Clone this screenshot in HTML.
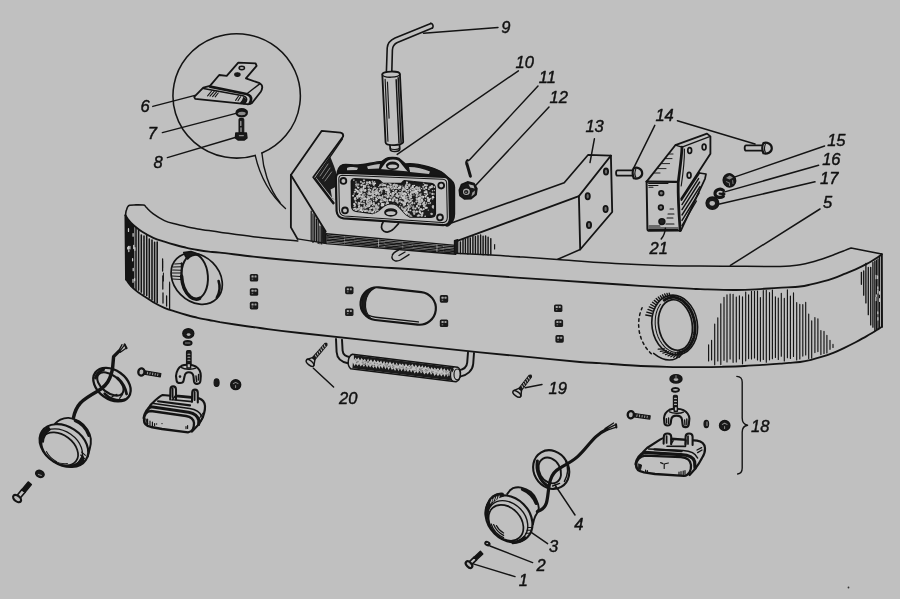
<!DOCTYPE html>
<html><head><meta charset="utf-8"><title>diagram</title>
<style>
html,body{margin:0;padding:0;background:#c0c0c0;}
body{width:900px;height:599px;overflow:hidden;font-family:"Liberation Sans",sans-serif;}
svg{display:block;filter:blur(0.4px)}
svg text{font-family:"Liberation Sans",sans-serif;font-style:italic;font-size:16.5px;fill:#111;stroke:#111;stroke-width:0.45px}
</style></head><body>
<svg width="900" height="599" viewBox="0 0 900 599" fill="none" stroke="#141414" stroke-width="1.44" stroke-linecap="round" stroke-linejoin="round">
<rect x="0" y="0" width="900" height="599" fill="#c0c0c0" stroke="none"/>
<g id="bumper"><path d="M125.5 215.4C125.6 214.8 125.8 212.5 126.0 211.5C126.2 210.5 126.4 210.2 126.7 209.4C127.0 208.6 127.3 207.3 127.8 206.6C128.3 205.9 128.6 205.5 129.6 205.2C130.6 204.9 131.7 204.9 134.0 204.9C136.3 204.9 141.4 204.8 143.3 205.0C145.2 205.2 144.6 205.5 145.2 206.0C145.8 206.5 145.3 206.5 146.7 207.8C148.0 209.1 150.4 211.8 153.3 213.9C156.2 216.0 160.7 218.9 164.4 220.6C168.1 222.3 171.9 223.1 175.6 224.1C179.3 225.1 183.0 225.9 186.7 226.7C190.4 227.5 194.1 228.2 197.8 228.9C201.5 229.6 205.2 230.1 208.9 230.6C212.6 231.1 212.6 231.2 220.0 232.2C227.4 233.2 242.2 235.4 253.3 236.7C264.4 238.0 279.3 239.3 286.7 240.0C294.1 240.7 295.9 240.8 297.8 240.9" stroke-width="1.55"/><path d="M454.4 253.3C460.5 253.6 480.2 254.4 491.1 255.0C502.0 255.6 508.9 256.1 520.0 256.9C531.1 257.6 541.7 258.4 557.5 259.5C573.3 260.6 597.9 262.5 615.0 263.5C632.1 264.5 645.8 265.0 660.0 265.4C674.2 265.8 687.8 266.0 700.0 266.1C712.2 266.2 722.2 266.1 733.3 266.2C744.4 266.3 758.9 266.5 766.7 266.5C774.5 266.5 776.1 266.5 780.0 266.4C783.9 266.3 786.7 266.2 790.0 265.9C793.3 265.6 796.5 265.4 800.0 264.8C803.5 264.2 807.4 263.3 811.1 262.3C814.8 261.3 818.5 260.1 822.2 258.9C825.9 257.7 829.6 256.4 833.3 255.0C837.0 253.6 841.4 251.8 844.4 250.6C847.4 249.4 850.0 248.4 851.1 248.0 L881.7 254" stroke-width="1.55"/><path d="M125.5 215.4C125.9 216.0 127.1 218.0 128.0 219.2C128.9 220.4 129.8 221.5 131.1 222.8C132.4 224.1 134.2 225.7 136.0 227.2C137.8 228.7 139.3 229.9 142.2 231.7C145.1 233.5 149.6 236.1 153.3 237.8C157.0 239.5 160.7 240.5 164.4 241.7C168.1 242.9 171.9 244.0 175.6 245.0C179.3 246.0 183.0 247.0 186.7 247.8C190.4 248.6 194.1 249.3 197.8 250.0C201.5 250.7 205.2 251.3 208.9 251.7C212.6 252.1 212.6 251.8 220.0 252.6C227.4 253.4 242.2 255.5 253.3 256.7C264.4 257.9 275.6 259.0 286.7 260.0C297.8 261.0 306.1 261.7 320.0 262.8C333.9 263.9 353.3 265.4 370.0 266.6C386.7 267.8 403.3 268.7 420.0 270.0C436.7 271.3 453.3 272.9 470.0 274.2C486.7 275.5 500.0 276.4 520.0 277.8C540.0 279.2 570.0 281.2 590.0 282.5C610.0 283.8 623.3 284.8 640.0 285.8C656.7 286.8 680.0 288.1 690.0 288.6C700.0 289.2 692.8 288.9 700.0 289.1C707.2 289.3 724.0 289.9 733.3 290.0C742.6 290.1 748.2 289.8 755.6 289.4C763.0 289.0 770.4 288.3 777.8 287.8C785.2 287.3 794.5 287.1 800.0 286.5C805.5 285.9 807.4 285.2 811.1 284.4C814.8 283.6 818.5 282.7 822.2 281.7C825.9 280.7 829.6 279.6 833.3 278.3C837.0 277.0 840.7 275.4 844.4 273.9C848.1 272.4 851.9 271.1 855.6 269.4C859.3 267.7 863.0 265.9 866.7 263.9C870.4 261.9 875.3 258.8 877.8 257.2C880.3 255.6 881.1 254.9 881.7 254.4" stroke-width="1.84"/><path d="M126.1 279.4C126.5 280.0 127.7 281.9 128.5 283.0C129.3 284.1 129.8 284.8 131.1 286.1C132.3 287.4 134.2 289.1 136.0 290.6C137.8 292.1 139.3 293.1 142.2 295.0C145.1 296.9 149.6 300.1 153.3 302.2C157.0 304.3 160.7 306.2 164.4 307.8C168.1 309.4 171.9 310.5 175.6 311.7C179.3 312.9 183.0 314.0 186.7 315.0C190.4 316.0 194.1 317.0 197.8 317.8C201.5 318.6 205.2 319.3 208.9 320.0C212.6 320.7 215.7 321.4 220.0 322.2C224.3 322.9 228.3 323.5 235.0 324.5C241.7 325.5 249.2 326.6 260.0 328.0C270.8 329.4 276.7 330.4 300.0 333.0C323.3 335.6 370.0 340.5 400.0 343.8C430.0 347.0 458.3 350.1 480.0 352.3C501.7 354.5 513.3 355.6 530.0 357.2C546.7 358.8 568.3 361.0 580.0 362.0C591.7 363.0 591.1 362.5 600.0 363.1C608.9 363.7 622.2 364.9 633.3 365.5C644.4 366.1 655.6 366.5 666.7 366.8C677.8 367.1 690.8 367.1 700.0 367.1C709.2 367.1 714.6 367.0 722.0 366.8C729.4 366.6 736.9 366.4 744.4 366.0C751.9 365.6 760.8 365.0 766.7 364.6C772.6 364.2 776.3 363.9 780.0 363.6C783.7 363.3 785.6 363.2 788.9 362.9C792.2 362.6 796.3 362.5 800.0 362.0C803.7 361.5 807.4 360.7 811.1 359.8C814.8 358.9 818.5 357.9 822.2 356.7C825.9 355.5 829.6 354.3 833.3 352.8C837.0 351.3 840.7 349.6 844.4 347.8C848.1 346.0 851.9 344.1 855.6 342.2C859.3 340.2 863.0 338.2 866.7 336.1C870.4 334.0 875.2 331.0 877.8 329.4C880.3 327.8 881.3 327.1 882.0 326.7" stroke-width="1.84"/><path d="M125.5 215.4 L126.1 279.4" stroke-width="2.07"/><path d="M881.8 254.2 L882 326.7" stroke-width="1.95"/></g>
<g id="lhatch">
<path d="M126.6 218.3V279.4M127.8 219.8V281.5M129.0 221.2V283.1M130.1 223.0V284.0M131.1 224.2V285.9M132.2 224.9V286.7M133.6 226.6V287.8" stroke-width="1.61" opacity="1"/>
<path d="M136.0 227.5V290.0M138.6 229.9V290.1M141.3 235.0V292.1M144.0 235.9V294.4M146.7 234.6V295.4M149.3 239.0V298.0M152.0 240.0V299.7M154.6 242.2V301.8M157.2 242.0V302.7" stroke-width="1.55" opacity="1"/>
<path d="M162.6 259 V271 M162.8 276 V289 M163 293 V303 M169.6 284 V309 M166.6 296 V306" stroke-width="1.26"/>
<path d="M133.7 245.3v3.2M128.5 246.4v2.7M128.8 250.2v1.3M133.2 268.4v2.3M134.9 247.7v2.6M132.6 258.7v2.1M134.6 278.6v2.1M133.1 233.6v2.6M133.0 279.5v2.8M129.9 246.4v2.5M127.7 247.4v1.5M128.5 228.7v2.7" stroke="#c8c8c8" stroke-width="1.26"/>
</g>
<g id="rhatch">
<path d="M708.6 344.9V361.0M711.6 340.2V359.9M714.7 324.0V364.7M717.8 317.7V361.0M720.8 303.8V364.6M724.0 297.3V360.3M727.0 294.8V362.0M730.1 294.1V359.0M733.1 294.3V362.3M736.3 297.1V361.9M739.4 295.8V359.0M742.5 296.8V363.8M745.7 292.1V360.8M748.6 294.9V358.6M751.5 291.3V359.0M754.5 291.2V357.9M757.5 291.1V359.9M760.4 297.6V361.2M763.3 290.6V359.4M766.3 290.4V362.2M769.5 292.5V359.8M772.4 290.0V358.7M775.4 296.7V357.4M778.3 298.1V359.4M781.3 293.2V356.2M784.3 298.4V360.9M787.4 289.7V357.7M790.4 296.0V358.5M793.5 292.7V356.4M796.7 302.6V359.9M799.8 304.4V359.0M802.8 304.6V356.1M805.7 302.4V355.0M808.7 314.1V358.5M811.7 320.9V358.1M814.9 317.6V352.6M817.9 318.8V351.6M820.9 330.6V354.6M824.0 331.4V353.4M826.9 335.2V353.0M830.0 340.2V349.3M833.0 344.4V347.4" stroke-width="1.15" opacity="1"/>
<path d="M861.4 272.3V284.3M863.7 271.0V295.2M865.9 263.3V302.9M868.3 267.4V314.7M870.7 267.3V324.9M872.9 262.5V327.2" stroke-width="1.32" opacity="1"/>
<path d="M874.8 261.1V330.9M876.4 260.1V329.7M878.0 258.8V328.4M879.5 256.5V327.5" stroke-width="1.21" opacity="1"/>
<path d="M876.3 294.7v1.8M879.6 291.6v2.6M877.9 317.5v2.6M879.6 298.6v2.8M877.6 275.9v2.6M875.9 275.2v3.5M875.9 297.3v3.3M877.8 290.3v2.8M877.8 311.9v1.8M877.8 286.7v2.2" stroke="#c8c8c8" stroke-width="1.15"/>
</g>
<g id="squares">
<rect x="249.8" y="274.0" width="8.4" height="7.6" rx="1.6" fill="#1a1a1a" stroke="none"/><rect x="251.5" y="275.6" width="2.1" height="2.0" rx="0.5" fill="#a8a8a8" stroke="none"/><rect x="254.5" y="275.6" width="2.0" height="2.0" rx="0.5" fill="#9c9c9c" stroke="none"/><rect x="251.7" y="278.6" width="1.5" height="1.3" fill="#666" stroke="none"/>
<rect x="249.8" y="288.2" width="8.4" height="7.6" rx="1.6" fill="#1a1a1a" stroke="none"/><rect x="251.5" y="289.8" width="2.1" height="2.0" rx="0.5" fill="#a8a8a8" stroke="none"/><rect x="254.5" y="289.8" width="2.0" height="2.0" rx="0.5" fill="#9c9c9c" stroke="none"/><rect x="251.7" y="292.8" width="1.5" height="1.3" fill="#666" stroke="none"/>
<rect x="249.8" y="301.8" width="8.4" height="7.6" rx="1.6" fill="#1a1a1a" stroke="none"/><rect x="251.5" y="303.4" width="2.1" height="2.0" rx="0.5" fill="#a8a8a8" stroke="none"/><rect x="254.5" y="303.4" width="2.0" height="2.0" rx="0.5" fill="#9c9c9c" stroke="none"/><rect x="251.7" y="306.4" width="1.5" height="1.3" fill="#666" stroke="none"/>
<rect x="345.1" y="286.6" width="8.4" height="7.6" rx="1.6" fill="#1a1a1a" stroke="none"/><rect x="346.8" y="288.2" width="2.1" height="2.0" rx="0.5" fill="#a8a8a8" stroke="none"/><rect x="349.8" y="288.2" width="2.0" height="2.0" rx="0.5" fill="#9c9c9c" stroke="none"/><rect x="347.0" y="291.2" width="1.5" height="1.3" fill="#666" stroke="none"/>
<rect x="345.1" y="308.4" width="8.4" height="7.6" rx="1.6" fill="#1a1a1a" stroke="none"/><rect x="346.8" y="310.0" width="2.1" height="2.0" rx="0.5" fill="#a8a8a8" stroke="none"/><rect x="349.8" y="310.0" width="2.0" height="2.0" rx="0.5" fill="#9c9c9c" stroke="none"/><rect x="347.0" y="313.0" width="1.5" height="1.3" fill="#666" stroke="none"/>
<rect x="439.8" y="295.1" width="8.4" height="7.6" rx="1.6" fill="#1a1a1a" stroke="none"/><rect x="441.5" y="296.7" width="2.1" height="2.0" rx="0.5" fill="#a8a8a8" stroke="none"/><rect x="444.5" y="296.7" width="2.0" height="2.0" rx="0.5" fill="#9c9c9c" stroke="none"/><rect x="441.7" y="299.7" width="1.5" height="1.3" fill="#666" stroke="none"/>
<rect x="439.8" y="319.5" width="8.4" height="7.6" rx="1.6" fill="#1a1a1a" stroke="none"/><rect x="441.5" y="321.1" width="2.1" height="2.0" rx="0.5" fill="#a8a8a8" stroke="none"/><rect x="444.5" y="321.1" width="2.0" height="2.0" rx="0.5" fill="#9c9c9c" stroke="none"/><rect x="441.7" y="324.1" width="1.5" height="1.3" fill="#666" stroke="none"/>
<rect x="554.0" y="304.4" width="8.4" height="7.6" rx="1.6" fill="#1a1a1a" stroke="none"/><rect x="555.7" y="306.0" width="2.1" height="2.0" rx="0.5" fill="#a8a8a8" stroke="none"/><rect x="558.7" y="306.0" width="2.0" height="2.0" rx="0.5" fill="#9c9c9c" stroke="none"/><rect x="555.9" y="309.0" width="1.5" height="1.3" fill="#666" stroke="none"/>
<rect x="554.7" y="319.5" width="8.4" height="7.6" rx="1.6" fill="#1a1a1a" stroke="none"/><rect x="556.4" y="321.1" width="2.1" height="2.0" rx="0.5" fill="#a8a8a8" stroke="none"/><rect x="559.4" y="321.1" width="2.0" height="2.0" rx="0.5" fill="#9c9c9c" stroke="none"/><rect x="556.6" y="324.1" width="1.5" height="1.3" fill="#666" stroke="none"/>
<rect x="555.4" y="335.1" width="8.4" height="7.6" rx="1.6" fill="#1a1a1a" stroke="none"/><rect x="557.1" y="336.7" width="2.1" height="2.0" rx="0.5" fill="#a8a8a8" stroke="none"/><rect x="560.1" y="336.7" width="2.0" height="2.0" rx="0.5" fill="#9c9c9c" stroke="none"/><rect x="557.3" y="339.7" width="1.5" height="1.3" fill="#666" stroke="none"/>
</g>
<g id="slot" transform="rotate(6.3 398 306)"><rect x="360.4" y="289.6" width="75.6" height="32.8" rx="16.4" stroke-width="2.18"/><path d="M373 290.6 C365.5 292.6 361.6 299 361.6 306 C361.6 313 365.4 319.4 372.4 321.6 C367.6 317.6 365.4 312 365.4 306 C365.4 300 368 294 373 290.6 Z" fill="#1a1a1a" stroke-width="1.15"/><path d="M369.4 318.4 C372 319.4 374 319.6 377 319.6 L420 319.6" stroke-width="1.38"/></g>
<g id="lhole"><ellipse cx="196.7" cy="278.7" rx="28.3" ry="22.6" transform="rotate(45 196.7 278.7)" stroke-width="1.72"/><path d="M218.6 281 C220.6 287 219.4 293 216.8 297.6" stroke-width="2.53"/><ellipse cx="194.7" cy="276.7" rx="13.2" ry="22.4" transform="rotate(-4 194.7 276.7)" stroke-width="1.95"/><path d="M181.6 276 C182 284 185 292 190 296.6 C193 299 196.6 299.8 199.6 298.4" stroke-width="3.45"/><path d="M183.8 252.6 L191 251.6 L199.6 254.6 C194 254.4 190 255.6 187.6 259 L185.6 256.4 Z" fill="#1a1a1a" stroke-width="1.61"/><path d="M174.6 264 L182.4 263.6 M173.4 267 L181.6 266.8 M172.6 270 L181 270.2 M172.2 273 L180.8 273 M172 276 L180.8 276.4 M172.6 279 L181 279.4" stroke-width="1.03"/><path d="M181.6 263 V277" stroke-width="1.72"/><path d="M162.6 261 V268 M163.4 273 V281 M169.6 282 V284" stroke-width="1.03"/></g>
<g id="rhole"><ellipse cx="674.7" cy="325" rx="22.7" ry="30" transform="rotate(-9 674.7 325)" stroke-width="1.61"/><ellipse cx="675.4" cy="325" rx="16.8" ry="25.4" transform="rotate(-9 675.4 325)" stroke-width="1.72"/><path d="M664.2 300.3 L665.8 299.3 L667.4 298.5 L669.1 297.9 L670.8 297.5 L672.6 297.4 L674.4 297.4 L676.2 297.7 L677.9 298.3 L679.7 299.0 L681.4 299.9 L683.1 301.1 L684.7 302.4 L686.2 303.9 L687.7 305.6 L689.0 307.4 L690.2 309.4 L691.3 311.5 L692.3 313.7 L693.1 316.0 L693.8 318.3 L694.4 320.8 L694.7 323.2 L695.0 325.7 L695.0 328.2 L694.9 330.6 L694.7 333.0 L694.3 335.3 L693.7 337.6 L693.0 339.7 L692.1 341.7 L691.1 343.6 L690.0 345.4 L688.8 347.0 L687.4 348.4 L686.0 349.6 L684.4 350.6 L682.8 351.5 L681.1 352.1 L679.4 352.5 L677.6 352.6" stroke-width="2.88"/><path d="M675.9 352.4 L674.7 352.2 L673.6 352.0 L672.4 351.7 L671.2 351.2 L670.1 350.7 L669.0 350.1 L667.9 349.4 L666.8 348.6 L665.7 347.8 L664.7 346.8 L663.8 345.8 L662.8 344.7 L661.9 343.5 L661.1 342.3 L660.2 341.0 L659.5 339.7 L658.8 338.3 L658.1 336.9 L657.6 335.4 L657.0 333.9 L656.6 332.4 L656.2 330.8 L655.8 329.2 L655.6 327.6 L655.4 326.0 L655.2 324.4 L655.2 322.7 L655.2 321.1 L655.3 319.6 L655.4 318.0 L655.6 316.4 L655.9 314.9 L656.2 313.4 L656.6 312.0 L657.1 310.6 L657.6 309.2 L658.2 307.9 L658.9 306.7 L659.6 305.5 L660.4 304.4" stroke-width="1.03"/><path d="M651.3 353.8 L650.4 352.9 L649.6 352.0 L648.8 351.1 L647.9 350.2 L647.2 349.2 L646.4 348.2 L645.7 347.2 L645.0 346.2 L644.4 345.1 L643.7 344.0 L643.2 342.9 L642.6 341.8 L642.1 340.7 L641.6 339.5 L641.1 338.3 L640.7 337.1 L640.4 335.9 L640.0 334.7 L639.7 333.5 L639.4 332.3 L639.2 331.0 L639.0 329.8 L638.9 328.6 L638.8 327.3 L638.7 326.0 L638.6 324.8 L638.6 323.5 L638.7 322.3 L638.8 321.0 L638.9 319.8 L639.0 318.5 L639.2 317.3 L639.5 316.1 L639.7 314.8 L640.0 313.6 L640.4 312.4 L640.8 311.3 L641.2 310.1 L641.6 308.9 L642.1 307.8" stroke-width="1.49" stroke-dasharray="2.6 3.4"/><path d="M651.3 316.0L645.8 315.0M651.8 313.5L646.8 312.1M652.5 311.1L648.0 309.4M653.4 308.7L649.3 306.9M654.4 306.5L650.8 304.5M655.6 304.5L652.5 302.3M657.0 302.6L654.3 300.4M658.5 300.8L656.2 298.6M660.1 299.3L658.3 297.1M661.8 297.9L660.4 295.8M663.6 296.8L662.5 294.8M665.5 295.8L664.7 294.0M667.5 295.1L667.0 293.5M669.5 294.6L669.2 293.2" stroke-width="1.38"/><path d="M682.1 352.5L679.3 357.3M679.9 353.1L676.5 357.5M677.7 353.4L673.7 357.3M675.4 353.4L670.9 356.8M673.1 353.1L668.1 355.9M670.9 352.5L665.5 354.7M668.6 351.5L662.9 353.2M666.5 350.3L660.4 351.3M664.4 348.8L658.2 349.2" stroke-width="1.26"/><path d="M653.6 353.4 Q670 366.4 682.2 353.9" stroke-width="1.49"/></g>
<g id="callout"><path d="M255.2 155.4 A63.7 62.2 0 1 1 261.9 153.0" stroke-width="1.55"/><path d="M255.2 155.4 C259 172 268 193 285.5 208.5" stroke-width="1.38"/><path d="M261.9 153.0 C263 168 268.5 188 280 202.5" stroke-width="1.38"/></g>
<g id="p6"><path d="M238.3 62.6 L255.6 63.3 L256.6 65.9 L245.9 78.3 L259.6 83.2 C261.6 84.2 262.4 86 262.2 87.6 C262 89.4 261.6 90.6 260.8 91.8 L252 103 C250.6 104.2 248.6 104.4 246.6 104.2 L195.2 98.8 L194.2 96.8 L203.3 87.6 L210 85.8 L219.2 75 L226.7 75.8 Z" fill="#c0c0c0" stroke-width="1.84"/><path d="M210 86.6 L246.4 94 C250 95 251.4 97.6 251 100 C250.8 101.6 250.4 102.4 249.8 103" stroke-width="2.64"/><path d="M203.4 88.4 L243 95.8 C246.4 96.6 247.2 99 246.4 101 C245.8 102.4 245 103.2 244 103.8" stroke-width="1.49"/><path d="M246.6 94 L260 83.6" stroke-width="1.38"/><path d="M243.6 97.6 C246 98.6 246.4 101 244.8 103.4 L240.6 103 C242.4 101.4 243.2 99.4 243.6 97.6Z" fill="#1a1a1a" stroke-width="1.15"/><path d="M207.6 95.8 L211.6 91 M210 96.2 L214.2 91.4 M212.6 96.6 L216.6 91.8 M215.2 96.8 L218.2 93 M235.6 100.4 L238.6 96 M238 100.8 L240.6 96.8" stroke-width="1.09"/><ellipse cx="241.8" cy="68" rx="2.7" ry="1.7" fill="#b0b0b0" stroke-width="1.49"/><ellipse cx="237.4" cy="74.6" rx="2.7" ry="1.8" fill="#1a1a1a" stroke-width="1.15"/></g>
<g id="p7p8"><ellipse cx="241.7" cy="112.8" rx="5.2" ry="3.6" fill="#8c8c8c" stroke-width="2.18"/><path d="M237.4 111.8 C239 110 244.4 109.8 246.2 111.4" stroke-width="2.76"/><rect x="239" y="118.6" width="4.8" height="15" rx="1" fill="#1a1a1a" stroke-width="1.03"/><path d="M240.8 121.5 V125.4 M241 128 V131.6" stroke="#a4a4a4" stroke-width="1.26"/><path d="M235.8 133 L246.4 133 L247 138 L244.4 140 L238 140 L235.4 138 Z" fill="#1a1a1a" stroke-width="1.38"/><path d="M239.4 135.6 H243.4" stroke="#8a8a8a" stroke-width="1.15"/></g>
<g id="leadersL" stroke-width="1.49"><path d="M152.8 106.4 L195 95.4"/><path d="M162.4 132.6 L236 113.4"/><path d="M167.4 157.6 L236 137.2"/></g>
<g id="lbracket"><path d="M330.4 157 L316.3 177.7 L333 199 L336 200 L336 172 L334 166 Z" fill="#1c1c1c" stroke="none"/><path d="M320 176 L328 164 M322.6 178.6 L330 168 M325 181 L331.6 172" stroke="#9a9a9a" stroke-width="0.80"/><path d="M330.6 189.4 L335.4 187 L335.6 201 L332 197.6 Z" fill="#bdbdbd" stroke="none"/><path d="M290.9 175.1 L321.6 130.9 L340.6 132.7 C342.6 133.2 343.5 134.8 343.1 136.5 L313.2 177.2 L333.4 203.6" stroke-width="1.84"/><path d="M290.9 175.1 L325.7 231.6" stroke-width="1.84"/><path d="M290.9 175.1 L290.9 227.4 L297.5 238.9" stroke-width="1.84"/><path d="M342.5 138.8 L315.3 178.3 L334 203" stroke-width="1.38"/><path d="M297.5 238.9 L326 243.4" stroke-width="1.38"/></g>
<path d="M311.2 211.1V240.9M313.0 213.9V242.4M314.7 215.7V241.4M316.5 219.1V241.5M318.2 220.5V243.4M320.0 226.0V243.7M321.7 226.7V243.9" stroke-width="1.21" opacity="1"/>
<path d="M322.8 228 L326 233.4 L326 243.6 L322.8 243 Z" fill="#1a1a1a" stroke-width="0.92"/>
<g id="plate"><path d="M326 233.8 L455.5 245.4 L455.8 254.2 L326 243.6 Z" fill="#c0c0c0" stroke-width="1.38"/><path d="M327 235.6 L455 246.9 M327 237.2 L455 248.5 M327 238.8 L455 250.1 M327 240.4 L455 251.7 M327 242 L455 253.2" stroke-width="1.21" stroke-dasharray="17 1.2 9 0.8 23 1.6 5 1"/><path d="M398.5 250 C394 252 391.5 255 392 258 C392.8 261 396.5 262 400.5 260 L409 254.6 M399 255.5 L405 252" stroke-width="1.38"/></g>
<g id="housing"><path d="M337 176 C337 170 339 166 343 164.6 C347 163.6 352 165.4 358 165 C366 164.4 374 162 382 161.4 L386 158.6 C388 157.2 396 157 399 158.4 L405.5 164 C412 163 420 164.4 428 166.6 C436 168.8 443 171.5 447.5 177 C452 180 454.5 183 454.5 187 L454.5 214 C454.5 219 452 223 448.5 225.6 L447 226 Z" fill="#161616" stroke-width="1.38"/><path d="M347 168 C350 166 355 167.4 358 167.8 L357 170 L347 170.2 Z M367 166.6 C372 165 377 164 380 164 L379 168.5 L368 169 Z M409 167 C416 167 424 169 430 171.5 L429 174 L410 172 Z" fill="#b9b9b9" stroke="none"/><path d="M340.5 172.6 C338 172.8 336 175 335.9 178 L336.6 211 C337 215 339.5 217.8 343.5 218.3 L443 225.2 C447 225.4 449.8 222.5 450 218.5 L449.2 181.5 C449 178.5 447 177 444 176.8 Z" fill="#c0c0c0" stroke-width="2.18"/><path d="M342 175.2 C340 175.4 338.8 177 338.8 179 L339.4 210 C339.6 213.5 341.5 215.6 344.5 215.9 L442 222.6 C445.5 222.8 447.3 220.6 447.3 217.6 L446.6 182.8 C446.4 180.6 445 179.5 443 179.3 Z" stroke-width="1.03"/><path d="M380 169 C382 166 384.5 161.5 387.5 159.6 C390 158.2 396 158.2 398.5 159.6 C402 162 404 166.5 409 171.5" fill="#c0c0c0" stroke-width="1.84"/><ellipse cx="392.6" cy="165.8" rx="5.8" ry="3.4" stroke-width="1.72"/><path d="M387.5 165 C389 163.2 395.5 163 397.6 164.8" stroke-width="2.07"/></g>
<clipPath id="cavclip"><path d="M351.5 181.5 C351.5 179.8 353 178.8 355 178.9 L378.5 180.2 C380.5 180.4 381 182.5 382.5 183.6 L401 183.6 C402.5 183.2 402.8 181.2 404.5 181 L431 183.6 C433.8 184 435 185.6 435 188 L435.2 213 C435.2 215.8 433.5 217 431 217 L410 216.8 C404 214.5 402 208.5 397 205 C393.5 203 388 203 384.5 205.5 C380.5 208.5 377.5 212.5 372.5 213.4 L356 211 C353 210.5 351.8 208.5 351.8 206 Z"/></clipPath>
<path d="M351.5 181.5 C351.5 179.8 353 178.8 355 178.9 L378.5 180.2 C380.5 180.4 381 182.5 382.5 183.6 L401 183.6 C402.5 183.2 402.8 181.2 404.5 181 L431 183.6 C433.8 184 435 185.6 435 188 L435.2 213 C435.2 215.8 433.5 217 431 217 L410 216.8 C404 214.5 402 208.5 397 205 C393.5 203 388 203 384.5 205.5 C380.5 208.5 377.5 212.5 372.5 213.4 L356 211 C353 210.5 351.8 208.5 351.8 206 Z" fill="#1c1c1c" stroke-width="1.84"/>
<g clip-path="url(#cavclip)" stroke="none"><circle cx="363.4" cy="183.6" r="0.60" fill="#bcbcbc"/><circle cx="387.6" cy="187.1" r="0.64" fill="#bcbcbc"/><circle cx="430.0" cy="203.5" r="0.73" fill="#bcbcbc"/><circle cx="394.8" cy="191.9" r="0.77" fill="#a8a8a8"/><circle cx="417.4" cy="215.9" r="0.74" fill="#c6c6c6"/><circle cx="394.7" cy="197.8" r="0.75" fill="#bcbcbc"/><circle cx="404.7" cy="209.5" r="1.15" fill="#c6c6c6"/><circle cx="373.9" cy="183.6" r="1.25" fill="#d0d0d0"/><circle cx="428.9" cy="189.2" r="0.92" fill="#bcbcbc"/><circle cx="367.0" cy="214.4" r="0.92" fill="#bcbcbc"/><circle cx="376.1" cy="198.0" r="0.79" fill="#c6c6c6"/><circle cx="434.5" cy="180.4" r="0.90" fill="#bcbcbc"/><circle cx="394.7" cy="188.3" r="1.01" fill="#d0d0d0"/><circle cx="432.5" cy="190.7" r="0.71" fill="#bcbcbc"/><circle cx="385.6" cy="192.2" r="0.64" fill="#c6c6c6"/><circle cx="403.9" cy="212.4" r="0.59" fill="#d0d0d0"/><circle cx="424.3" cy="204.5" r="0.72" fill="#a8a8a8"/><circle cx="355.8" cy="186.0" r="0.55" fill="#a8a8a8"/><circle cx="372.3" cy="215.7" r="0.80" fill="#c6c6c6"/><circle cx="406.4" cy="188.4" r="0.61" fill="#c6c6c6"/><circle cx="363.9" cy="201.3" r="0.76" fill="#bcbcbc"/><circle cx="401.5" cy="208.0" r="0.90" fill="#a8a8a8"/><circle cx="412.1" cy="203.4" r="1.13" fill="#b4b4b4"/><circle cx="363.6" cy="198.9" r="1.13" fill="#c6c6c6"/><circle cx="408.7" cy="205.3" r="0.57" fill="#bcbcbc"/><circle cx="404.9" cy="215.5" r="0.87" fill="#c6c6c6"/><circle cx="404.1" cy="202.8" r="0.89" fill="#c6c6c6"/><circle cx="371.2" cy="203.7" r="1.14" fill="#c6c6c6"/><circle cx="391.8" cy="205.0" r="0.98" fill="#bcbcbc"/><circle cx="358.4" cy="184.6" r="1.07" fill="#a8a8a8"/><circle cx="392.3" cy="216.0" r="0.70" fill="#d0d0d0"/><circle cx="376.1" cy="198.6" r="0.88" fill="#c6c6c6"/><circle cx="359.1" cy="197.0" r="0.60" fill="#b4b4b4"/><circle cx="369.4" cy="214.9" r="0.96" fill="#bcbcbc"/><circle cx="414.0" cy="188.9" r="0.97" fill="#b4b4b4"/><circle cx="375.2" cy="183.3" r="0.90" fill="#d0d0d0"/><circle cx="408.6" cy="194.4" r="0.84" fill="#d0d0d0"/><circle cx="378.2" cy="210.9" r="1.08" fill="#d0d0d0"/><circle cx="362.0" cy="214.2" r="1.18" fill="#a8a8a8"/><circle cx="414.7" cy="211.5" r="0.59" fill="#a8a8a8"/><circle cx="388.2" cy="191.0" r="1.10" fill="#d0d0d0"/><circle cx="389.4" cy="207.6" r="0.75" fill="#c6c6c6"/><circle cx="427.7" cy="199.9" r="0.84" fill="#a8a8a8"/><circle cx="373.6" cy="203.9" r="0.94" fill="#d0d0d0"/><circle cx="361.9" cy="203.4" r="0.90" fill="#d0d0d0"/><circle cx="397.7" cy="196.2" r="1.08" fill="#d0d0d0"/><circle cx="363.6" cy="186.3" r="0.79" fill="#c6c6c6"/><circle cx="383.8" cy="207.3" r="0.74" fill="#c6c6c6"/><circle cx="393.3" cy="200.8" r="1.03" fill="#b4b4b4"/><circle cx="404.3" cy="211.8" r="0.74" fill="#bcbcbc"/><circle cx="383.9" cy="203.5" r="0.77" fill="#c6c6c6"/><circle cx="362.6" cy="195.2" r="1.11" fill="#b4b4b4"/><circle cx="429.0" cy="199.1" r="0.86" fill="#c6c6c6"/><circle cx="361.0" cy="210.4" r="1.14" fill="#d0d0d0"/><circle cx="359.1" cy="208.5" r="0.64" fill="#b4b4b4"/><circle cx="428.4" cy="203.5" r="0.64" fill="#a8a8a8"/><circle cx="395.8" cy="195.6" r="0.62" fill="#a8a8a8"/><circle cx="395.5" cy="201.1" r="0.71" fill="#b4b4b4"/><circle cx="372.1" cy="199.0" r="0.57" fill="#d0d0d0"/><circle cx="410.5" cy="190.7" r="0.90" fill="#d0d0d0"/><circle cx="358.7" cy="187.7" r="0.81" fill="#d0d0d0"/><circle cx="354.8" cy="191.8" r="1.03" fill="#bcbcbc"/><circle cx="357.6" cy="197.8" r="1.09" fill="#bcbcbc"/><circle cx="371.2" cy="187.4" r="0.76" fill="#b4b4b4"/><circle cx="393.1" cy="186.1" r="0.84" fill="#c6c6c6"/><circle cx="369.7" cy="216.0" r="0.59" fill="#c6c6c6"/><circle cx="367.3" cy="196.1" r="0.77" fill="#c6c6c6"/><circle cx="367.4" cy="214.6" r="0.57" fill="#d0d0d0"/><circle cx="361.0" cy="182.0" r="0.84" fill="#c6c6c6"/><circle cx="398.6" cy="207.8" r="1.09" fill="#a8a8a8"/><circle cx="420.2" cy="195.4" r="0.88" fill="#a8a8a8"/><circle cx="396.9" cy="196.0" r="1.07" fill="#d0d0d0"/><circle cx="415.6" cy="180.5" r="0.59" fill="#c6c6c6"/><circle cx="403.2" cy="189.0" r="0.77" fill="#a8a8a8"/><circle cx="376.7" cy="206.4" r="1.11" fill="#c6c6c6"/><circle cx="372.8" cy="195.3" r="1.20" fill="#bcbcbc"/><circle cx="409.4" cy="184.7" r="1.15" fill="#d0d0d0"/><circle cx="382.0" cy="208.7" r="0.69" fill="#bcbcbc"/><circle cx="372.5" cy="181.5" r="0.94" fill="#a8a8a8"/><circle cx="365.3" cy="195.2" r="0.60" fill="#b4b4b4"/><circle cx="410.9" cy="196.0" r="0.84" fill="#b4b4b4"/><circle cx="426.0" cy="187.9" r="1.09" fill="#c6c6c6"/><circle cx="416.7" cy="190.2" r="0.74" fill="#a8a8a8"/><circle cx="413.3" cy="186.6" r="0.72" fill="#bcbcbc"/><circle cx="375.4" cy="213.5" r="0.60" fill="#a8a8a8"/><circle cx="421.8" cy="213.7" r="0.76" fill="#c6c6c6"/><circle cx="366.8" cy="201.9" r="1.02" fill="#c6c6c6"/><circle cx="360.8" cy="201.7" r="0.70" fill="#a8a8a8"/><circle cx="419.6" cy="210.1" r="0.81" fill="#b4b4b4"/><circle cx="397.5" cy="181.4" r="0.83" fill="#b4b4b4"/><circle cx="364.8" cy="199.3" r="0.83" fill="#a8a8a8"/><circle cx="386.0" cy="189.8" r="1.22" fill="#a8a8a8"/><circle cx="413.9" cy="212.6" r="0.56" fill="#a8a8a8"/><circle cx="405.5" cy="193.8" r="1.21" fill="#d0d0d0"/><circle cx="385.7" cy="212.5" r="0.66" fill="#c6c6c6"/><circle cx="413.2" cy="185.5" r="0.66" fill="#bcbcbc"/><circle cx="418.8" cy="215.7" r="0.64" fill="#c6c6c6"/><circle cx="433.0" cy="197.3" r="1.20" fill="#d0d0d0"/><circle cx="359.2" cy="206.1" r="1.17" fill="#bcbcbc"/><circle cx="403.5" cy="202.4" r="0.88" fill="#b4b4b4"/><circle cx="370.1" cy="194.2" r="0.82" fill="#c6c6c6"/><circle cx="407.8" cy="204.4" r="0.82" fill="#d0d0d0"/><circle cx="397.7" cy="202.8" r="0.84" fill="#b4b4b4"/><circle cx="372.7" cy="193.8" r="0.90" fill="#bcbcbc"/><circle cx="371.5" cy="208.0" r="0.87" fill="#bcbcbc"/><circle cx="419.3" cy="194.2" r="0.80" fill="#a8a8a8"/><circle cx="359.6" cy="195.8" r="0.58" fill="#bcbcbc"/><circle cx="358.8" cy="206.9" r="0.91" fill="#c6c6c6"/><circle cx="417.1" cy="180.0" r="0.98" fill="#c6c6c6"/><circle cx="431.4" cy="213.8" r="1.10" fill="#bcbcbc"/><circle cx="357.4" cy="192.3" r="0.66" fill="#b4b4b4"/><circle cx="374.8" cy="210.0" r="0.90" fill="#d0d0d0"/><circle cx="369.3" cy="189.0" r="0.77" fill="#c6c6c6"/><circle cx="368.5" cy="194.3" r="0.74" fill="#a8a8a8"/><circle cx="361.6" cy="199.2" r="0.80" fill="#d0d0d0"/><circle cx="384.7" cy="209.3" r="1.24" fill="#b4b4b4"/><circle cx="364.1" cy="191.6" r="0.71" fill="#b4b4b4"/><circle cx="400.6" cy="204.2" r="0.55" fill="#c6c6c6"/><circle cx="370.4" cy="190.1" r="0.84" fill="#a8a8a8"/><circle cx="406.2" cy="179.8" r="0.80" fill="#c6c6c6"/><circle cx="395.4" cy="199.3" r="0.76" fill="#bcbcbc"/><circle cx="368.9" cy="202.7" r="0.64" fill="#bcbcbc"/><circle cx="410.7" cy="196.1" r="0.65" fill="#a8a8a8"/><circle cx="385.4" cy="189.0" r="1.00" fill="#b4b4b4"/><circle cx="402.0" cy="198.7" r="0.67" fill="#c6c6c6"/><circle cx="355.7" cy="199.2" r="0.72" fill="#c6c6c6"/><circle cx="406.5" cy="186.5" r="0.91" fill="#b4b4b4"/><circle cx="405.8" cy="194.8" r="0.91" fill="#c6c6c6"/><circle cx="417.0" cy="206.2" r="1.14" fill="#d0d0d0"/><circle cx="358.7" cy="203.9" r="1.25" fill="#a8a8a8"/><circle cx="411.1" cy="189.1" r="0.86" fill="#b4b4b4"/><circle cx="367.9" cy="193.8" r="0.82" fill="#b4b4b4"/><circle cx="391.0" cy="210.9" r="1.15" fill="#d0d0d0"/><circle cx="417.5" cy="193.9" r="0.95" fill="#bcbcbc"/><circle cx="364.0" cy="180.0" r="1.20" fill="#a8a8a8"/><circle cx="433.1" cy="205.6" r="0.65" fill="#c6c6c6"/><circle cx="409.9" cy="207.0" r="0.96" fill="#a8a8a8"/><circle cx="411.0" cy="193.6" r="0.69" fill="#c6c6c6"/><circle cx="404.6" cy="210.4" r="0.75" fill="#c6c6c6"/><circle cx="363.0" cy="209.1" r="0.76" fill="#a8a8a8"/><circle cx="375.5" cy="206.2" r="0.77" fill="#b4b4b4"/><circle cx="393.8" cy="211.4" r="0.57" fill="#d0d0d0"/><circle cx="354.6" cy="198.7" r="0.88" fill="#c6c6c6"/><circle cx="359.5" cy="210.2" r="0.55" fill="#bcbcbc"/><circle cx="375.9" cy="207.5" r="0.79" fill="#c6c6c6"/><circle cx="392.8" cy="209.3" r="0.90" fill="#a8a8a8"/><circle cx="413.9" cy="195.0" r="0.81" fill="#a8a8a8"/><circle cx="373.8" cy="213.2" r="0.82" fill="#bcbcbc"/><circle cx="409.2" cy="202.0" r="0.96" fill="#b4b4b4"/><circle cx="364.9" cy="211.0" r="1.07" fill="#bcbcbc"/><circle cx="390.4" cy="205.2" r="0.71" fill="#a8a8a8"/><circle cx="390.3" cy="212.6" r="0.68" fill="#a8a8a8"/><circle cx="402.0" cy="192.2" r="1.22" fill="#a8a8a8"/><circle cx="432.9" cy="206.7" r="1.22" fill="#c6c6c6"/><circle cx="368.2" cy="184.7" r="0.76" fill="#a8a8a8"/><circle cx="388.1" cy="186.5" r="0.62" fill="#bcbcbc"/><circle cx="425.5" cy="196.6" r="1.15" fill="#d0d0d0"/><circle cx="409.6" cy="198.0" r="0.87" fill="#bcbcbc"/><circle cx="373.3" cy="207.1" r="0.72" fill="#d0d0d0"/><circle cx="410.2" cy="201.3" r="1.14" fill="#b4b4b4"/><circle cx="389.7" cy="190.9" r="0.62" fill="#d0d0d0"/><circle cx="372.1" cy="194.2" r="0.66" fill="#d0d0d0"/><circle cx="426.2" cy="191.5" r="1.13" fill="#c6c6c6"/><circle cx="355.2" cy="199.6" r="1.10" fill="#bcbcbc"/><circle cx="396.9" cy="206.3" r="1.00" fill="#a8a8a8"/><circle cx="369.4" cy="205.0" r="1.08" fill="#c6c6c6"/><circle cx="412.5" cy="202.3" r="0.73" fill="#d0d0d0"/><circle cx="386.9" cy="205.5" r="0.74" fill="#bcbcbc"/><circle cx="357.7" cy="209.3" r="1.00" fill="#bcbcbc"/><circle cx="420.9" cy="209.2" r="1.25" fill="#b4b4b4"/><circle cx="405.9" cy="208.6" r="1.10" fill="#bcbcbc"/><circle cx="374.2" cy="193.3" r="0.85" fill="#bcbcbc"/><circle cx="381.7" cy="203.9" r="0.89" fill="#b4b4b4"/><circle cx="404.9" cy="204.1" r="1.20" fill="#d0d0d0"/><circle cx="404.6" cy="179.6" r="1.22" fill="#a8a8a8"/><circle cx="372.8" cy="182.9" r="0.71" fill="#d0d0d0"/><circle cx="402.5" cy="208.7" r="1.18" fill="#a8a8a8"/><circle cx="368.4" cy="205.3" r="1.07" fill="#d0d0d0"/><circle cx="386.8" cy="210.4" r="0.94" fill="#d0d0d0"/><circle cx="390.8" cy="184.5" r="0.90" fill="#b4b4b4"/><circle cx="401.8" cy="206.9" r="0.77" fill="#b4b4b4"/><circle cx="393.3" cy="190.3" r="0.85" fill="#c6c6c6"/><circle cx="367.0" cy="192.7" r="0.56" fill="#c6c6c6"/><circle cx="408.7" cy="214.4" r="1.24" fill="#b4b4b4"/><circle cx="392.2" cy="207.8" r="0.70" fill="#d0d0d0"/><circle cx="382.4" cy="197.0" r="1.09" fill="#bcbcbc"/><circle cx="375.6" cy="192.0" r="0.59" fill="#a8a8a8"/><circle cx="376.3" cy="210.5" r="0.90" fill="#a8a8a8"/><circle cx="424.5" cy="192.1" r="0.89" fill="#c6c6c6"/><circle cx="379.5" cy="191.0" r="0.96" fill="#c6c6c6"/><circle cx="425.5" cy="199.7" r="0.76" fill="#c6c6c6"/><circle cx="355.9" cy="210.2" r="1.09" fill="#c6c6c6"/><circle cx="403.2" cy="202.8" r="0.97" fill="#c6c6c6"/><circle cx="369.6" cy="204.3" r="1.08" fill="#c6c6c6"/><circle cx="407.1" cy="212.0" r="0.62" fill="#c6c6c6"/><circle cx="398.7" cy="188.8" r="0.85" fill="#a8a8a8"/><circle cx="427.8" cy="197.9" r="1.13" fill="#d0d0d0"/><circle cx="399.8" cy="213.9" r="0.56" fill="#d0d0d0"/><circle cx="401.3" cy="216.7" r="0.66" fill="#d0d0d0"/><circle cx="426.3" cy="202.8" r="0.56" fill="#c6c6c6"/><circle cx="362.1" cy="196.9" r="0.95" fill="#d0d0d0"/><circle cx="412.9" cy="186.1" r="1.09" fill="#bcbcbc"/><circle cx="399.7" cy="195.7" r="0.65" fill="#c6c6c6"/><circle cx="382.2" cy="203.5" r="0.84" fill="#d0d0d0"/><circle cx="416.6" cy="196.2" r="1.08" fill="#a8a8a8"/><circle cx="410.4" cy="210.4" r="0.97" fill="#c6c6c6"/><circle cx="421.0" cy="201.8" r="0.85" fill="#bcbcbc"/><circle cx="383.3" cy="205.0" r="1.18" fill="#d0d0d0"/><circle cx="408.8" cy="213.7" r="0.61" fill="#b4b4b4"/><circle cx="411.9" cy="216.3" r="0.59" fill="#d0d0d0"/><circle cx="390.6" cy="186.9" r="1.08" fill="#d0d0d0"/><circle cx="416.1" cy="187.8" r="1.18" fill="#b4b4b4"/><circle cx="378.6" cy="198.2" r="0.70" fill="#c6c6c6"/><circle cx="367.0" cy="205.6" r="0.95" fill="#d0d0d0"/><circle cx="416.7" cy="211.6" r="1.20" fill="#d0d0d0"/><circle cx="380.6" cy="198.7" r="0.57" fill="#b4b4b4"/><circle cx="392.4" cy="200.6" r="1.10" fill="#d0d0d0"/><circle cx="360.1" cy="196.0" r="0.98" fill="#bcbcbc"/><circle cx="367.0" cy="182.2" r="0.94" fill="#d0d0d0"/><circle cx="382.8" cy="187.9" r="0.67" fill="#a8a8a8"/><circle cx="354.3" cy="213.9" r="0.91" fill="#d0d0d0"/><circle cx="356.6" cy="184.5" r="1.21" fill="#a8a8a8"/><circle cx="401.0" cy="195.8" r="0.88" fill="#a8a8a8"/><circle cx="373.3" cy="183.7" r="0.67" fill="#bcbcbc"/><circle cx="365.0" cy="210.6" r="0.98" fill="#a8a8a8"/><circle cx="404.2" cy="196.2" r="1.13" fill="#d0d0d0"/><circle cx="361.6" cy="192.9" r="1.07" fill="#bcbcbc"/><circle cx="411.2" cy="200.0" r="1.16" fill="#a8a8a8"/><circle cx="386.7" cy="188.4" r="0.95" fill="#a8a8a8"/><circle cx="379.8" cy="185.4" r="0.77" fill="#d0d0d0"/><circle cx="361.5" cy="216.2" r="1.18" fill="#bcbcbc"/><circle cx="398.5" cy="210.7" r="1.08" fill="#a8a8a8"/><circle cx="387.9" cy="188.9" r="0.72" fill="#d0d0d0"/><circle cx="376.0" cy="213.1" r="1.06" fill="#a8a8a8"/><circle cx="364.0" cy="203.3" r="0.91" fill="#b4b4b4"/><circle cx="395.7" cy="186.1" r="1.19" fill="#bcbcbc"/><circle cx="395.3" cy="187.8" r="0.97" fill="#c6c6c6"/><circle cx="366.6" cy="184.2" r="0.99" fill="#bcbcbc"/><circle cx="400.4" cy="186.7" r="1.06" fill="#d0d0d0"/><circle cx="380.9" cy="189.7" r="1.21" fill="#c6c6c6"/><circle cx="424.4" cy="189.1" r="1.13" fill="#a8a8a8"/><circle cx="355.0" cy="205.7" r="1.15" fill="#a8a8a8"/><circle cx="395.1" cy="195.9" r="0.63" fill="#bcbcbc"/><circle cx="419.8" cy="211.9" r="1.05" fill="#d0d0d0"/><circle cx="399.8" cy="213.1" r="0.63" fill="#d0d0d0"/><circle cx="363.2" cy="188.3" r="0.98" fill="#bcbcbc"/><circle cx="399.8" cy="198.9" r="0.62" fill="#c6c6c6"/><circle cx="393.0" cy="198.0" r="0.64" fill="#d0d0d0"/><circle cx="425.4" cy="199.6" r="0.71" fill="#b4b4b4"/><circle cx="401.6" cy="201.9" r="1.23" fill="#c6c6c6"/><circle cx="416.5" cy="191.9" r="0.78" fill="#d0d0d0"/><circle cx="378.6" cy="194.2" r="0.78" fill="#bcbcbc"/><circle cx="387.0" cy="203.0" r="0.92" fill="#c6c6c6"/><circle cx="378.9" cy="186.6" r="0.71" fill="#d0d0d0"/><circle cx="374.1" cy="204.8" r="0.93" fill="#c6c6c6"/><circle cx="403.6" cy="188.5" r="0.85" fill="#c6c6c6"/><circle cx="375.9" cy="190.6" r="0.63" fill="#b4b4b4"/><circle cx="428.0" cy="200.9" r="1.07" fill="#b4b4b4"/><circle cx="375.8" cy="196.3" r="0.71" fill="#d0d0d0"/><circle cx="368.7" cy="206.0" r="0.93" fill="#b4b4b4"/><circle cx="391.7" cy="210.1" r="0.78" fill="#bcbcbc"/><circle cx="394.5" cy="193.6" r="0.56" fill="#a8a8a8"/><circle cx="365.5" cy="215.2" r="0.78" fill="#a8a8a8"/><circle cx="375.6" cy="216.5" r="1.09" fill="#bcbcbc"/><circle cx="397.7" cy="202.0" r="1.01" fill="#b4b4b4"/><circle cx="384.2" cy="195.7" r="0.63" fill="#bcbcbc"/><circle cx="386.6" cy="204.4" r="0.69" fill="#b4b4b4"/><circle cx="391.4" cy="208.8" r="1.19" fill="#bcbcbc"/><circle cx="386.3" cy="182.9" r="0.93" fill="#c6c6c6"/><circle cx="393.3" cy="215.6" r="0.84" fill="#a8a8a8"/><circle cx="424.4" cy="202.1" r="0.87" fill="#d0d0d0"/><circle cx="375.9" cy="192.4" r="0.92" fill="#b4b4b4"/><circle cx="422.5" cy="198.0" r="0.68" fill="#a8a8a8"/><circle cx="418.6" cy="195.6" r="0.71" fill="#a8a8a8"/><circle cx="431.6" cy="186.8" r="1.19" fill="#c6c6c6"/><circle cx="376.9" cy="199.4" r="0.98" fill="#d0d0d0"/><circle cx="394.9" cy="198.7" r="0.82" fill="#a8a8a8"/><circle cx="355.4" cy="204.7" r="0.56" fill="#c6c6c6"/><circle cx="385.3" cy="200.3" r="1.17" fill="#d0d0d0"/><circle cx="392.4" cy="195.7" r="1.25" fill="#a8a8a8"/><circle cx="409.4" cy="207.4" r="0.80" fill="#a8a8a8"/><circle cx="361.2" cy="213.0" r="1.12" fill="#b4b4b4"/><circle cx="425.7" cy="195.0" r="0.75" fill="#b4b4b4"/><circle cx="369.2" cy="212.9" r="0.59" fill="#b4b4b4"/><circle cx="417.4" cy="190.7" r="0.55" fill="#a8a8a8"/><circle cx="385.0" cy="182.7" r="0.57" fill="#bcbcbc"/><circle cx="393.3" cy="200.0" r="1.00" fill="#b4b4b4"/><circle cx="394.7" cy="184.5" r="0.97" fill="#bcbcbc"/><circle cx="365.0" cy="207.9" r="0.62" fill="#bcbcbc"/><circle cx="387.7" cy="209.4" r="1.03" fill="#b4b4b4"/><circle cx="378.8" cy="206.2" r="0.67" fill="#a8a8a8"/><circle cx="357.2" cy="186.3" r="0.56" fill="#bcbcbc"/><circle cx="388.5" cy="202.6" r="0.58" fill="#b4b4b4"/><circle cx="419.7" cy="190.5" r="1.22" fill="#d0d0d0"/><circle cx="408.0" cy="201.2" r="0.83" fill="#d0d0d0"/><circle cx="353.9" cy="212.0" r="0.67" fill="#d0d0d0"/><circle cx="367.5" cy="215.9" r="0.94" fill="#c6c6c6"/><circle cx="379.8" cy="212.1" r="1.01" fill="#c6c6c6"/><circle cx="387.0" cy="213.7" r="0.82" fill="#d0d0d0"/><circle cx="375.5" cy="188.0" r="1.01" fill="#a8a8a8"/><circle cx="418.8" cy="188.2" r="0.69" fill="#b4b4b4"/><circle cx="421.4" cy="209.6" r="0.80" fill="#d0d0d0"/><circle cx="383.3" cy="215.4" r="1.22" fill="#b4b4b4"/><circle cx="369.0" cy="211.6" r="1.21" fill="#a8a8a8"/><circle cx="396.4" cy="194.4" r="0.64" fill="#c6c6c6"/><circle cx="413.1" cy="208.1" r="1.05" fill="#bcbcbc"/><circle cx="377.8" cy="193.8" r="0.67" fill="#bcbcbc"/><circle cx="378.6" cy="204.2" r="0.94" fill="#a8a8a8"/><circle cx="418.8" cy="207.8" r="1.05" fill="#c6c6c6"/><circle cx="370.8" cy="183.8" r="0.75" fill="#d0d0d0"/><circle cx="422.1" cy="196.6" r="0.99" fill="#bcbcbc"/><circle cx="360.1" cy="190.1" r="0.98" fill="#bcbcbc"/><circle cx="411.1" cy="180.5" r="0.66" fill="#bcbcbc"/><circle cx="398.9" cy="187.7" r="0.91" fill="#d0d0d0"/><circle cx="361.3" cy="208.0" r="1.18" fill="#b4b4b4"/><circle cx="361.2" cy="209.1" r="1.19" fill="#c6c6c6"/><circle cx="403.1" cy="187.4" r="0.79" fill="#d0d0d0"/><circle cx="388.7" cy="191.9" r="1.03" fill="#d0d0d0"/><circle cx="394.2" cy="204.7" r="1.02" fill="#bcbcbc"/><circle cx="420.5" cy="200.2" r="0.66" fill="#bcbcbc"/><circle cx="397.1" cy="188.5" r="0.80" fill="#d0d0d0"/><circle cx="359.7" cy="203.2" r="1.03" fill="#d0d0d0"/><circle cx="407.6" cy="188.0" r="0.91" fill="#d0d0d0"/><circle cx="363.0" cy="203.4" r="0.64" fill="#bcbcbc"/><circle cx="400.8" cy="188.1" r="0.63" fill="#d0d0d0"/><circle cx="401.7" cy="196.5" r="1.13" fill="#c6c6c6"/><circle cx="355.6" cy="213.0" r="0.63" fill="#a8a8a8"/><circle cx="389.2" cy="183.3" r="0.88" fill="#a8a8a8"/><circle cx="376.0" cy="200.2" r="0.88" fill="#d0d0d0"/><circle cx="388.0" cy="186.2" r="0.56" fill="#c6c6c6"/><circle cx="406.2" cy="188.6" r="0.65" fill="#c6c6c6"/><circle cx="354.1" cy="194.0" r="0.81" fill="#b4b4b4"/><circle cx="422.2" cy="214.2" r="1.10" fill="#a8a8a8"/><circle cx="413.6" cy="191.4" r="1.13" fill="#a8a8a8"/><circle cx="421.5" cy="188.6" r="0.63" fill="#d0d0d0"/><circle cx="393.5" cy="185.0" r="0.96" fill="#c6c6c6"/><circle cx="363.8" cy="187.6" r="1.00" fill="#d0d0d0"/><circle cx="367.8" cy="206.5" r="1.14" fill="#b4b4b4"/><circle cx="387.3" cy="189.8" r="0.91" fill="#d0d0d0"/><circle cx="425.9" cy="181.4" r="1.22" fill="#bcbcbc"/><circle cx="427.0" cy="185.2" r="0.86" fill="#b4b4b4"/><circle cx="408.0" cy="200.6" r="0.93" fill="#b4b4b4"/><circle cx="403.4" cy="209.8" r="1.02" fill="#b4b4b4"/><circle cx="406.7" cy="200.5" r="0.81" fill="#bcbcbc"/><circle cx="382.9" cy="201.1" r="0.92" fill="#b4b4b4"/><circle cx="388.6" cy="188.9" r="1.23" fill="#bcbcbc"/><circle cx="372.9" cy="197.6" r="0.71" fill="#b4b4b4"/><circle cx="399.0" cy="211.4" r="1.11" fill="#bcbcbc"/><circle cx="398.7" cy="208.4" r="1.09" fill="#c6c6c6"/><circle cx="385.6" cy="180.8" r="1.04" fill="#bcbcbc"/><circle cx="390.2" cy="183.6" r="1.19" fill="#c6c6c6"/><circle cx="403.6" cy="212.1" r="1.19" fill="#a8a8a8"/><circle cx="365.9" cy="207.3" r="1.08" fill="#c6c6c6"/><circle cx="355.6" cy="201.9" r="0.93" fill="#b4b4b4"/><circle cx="361.4" cy="214.2" r="0.73" fill="#bcbcbc"/><circle cx="388.5" cy="209.1" r="0.60" fill="#a8a8a8"/><circle cx="367.4" cy="200.1" r="1.03" fill="#d0d0d0"/><circle cx="421.4" cy="201.4" r="1.25" fill="#a8a8a8"/><circle cx="419.9" cy="204.8" r="0.88" fill="#bcbcbc"/><circle cx="409.5" cy="196.0" r="1.22" fill="#b4b4b4"/><circle cx="358.3" cy="191.5" r="1.18" fill="#b4b4b4"/><circle cx="412.4" cy="191.6" r="1.21" fill="#a8a8a8"/><circle cx="355.8" cy="184.5" r="0.74" fill="#a8a8a8"/><circle cx="399.6" cy="201.2" r="1.04" fill="#b4b4b4"/><circle cx="387.4" cy="200.7" r="1.10" fill="#bcbcbc"/><circle cx="377.2" cy="208.0" r="0.91" fill="#bcbcbc"/><circle cx="381.1" cy="199.9" r="0.59" fill="#a8a8a8"/><circle cx="425.8" cy="204.5" r="0.83" fill="#a8a8a8"/><circle cx="429.1" cy="201.3" r="1.05" fill="#a8a8a8"/><circle cx="380.3" cy="214.0" r="0.61" fill="#bcbcbc"/><circle cx="377.3" cy="192.4" r="1.23" fill="#d0d0d0"/><circle cx="397.4" cy="207.8" r="0.72" fill="#c6c6c6"/><circle cx="370.1" cy="194.2" r="0.97" fill="#b4b4b4"/><circle cx="405.8" cy="186.5" r="1.22" fill="#b4b4b4"/><circle cx="399.8" cy="206.3" r="0.74" fill="#c6c6c6"/><circle cx="405.1" cy="214.1" r="0.78" fill="#c6c6c6"/><circle cx="405.9" cy="194.4" r="0.79" fill="#c6c6c6"/><circle cx="423.7" cy="209.3" r="0.98" fill="#d0d0d0"/><circle cx="406.3" cy="190.9" r="1.05" fill="#a8a8a8"/><circle cx="395.9" cy="210.9" r="0.80" fill="#a8a8a8"/><circle cx="396.7" cy="201.4" r="1.01" fill="#b4b4b4"/><circle cx="399.7" cy="187.7" r="1.12" fill="#d0d0d0"/><circle cx="415.4" cy="208.5" r="1.09" fill="#d0d0d0"/><circle cx="398.4" cy="192.7" r="0.74" fill="#a8a8a8"/><circle cx="370.9" cy="207.8" r="0.57" fill="#bcbcbc"/><circle cx="362.1" cy="199.6" r="1.09" fill="#a8a8a8"/><circle cx="430.0" cy="192.9" r="0.67" fill="#bcbcbc"/><circle cx="395.9" cy="192.3" r="0.86" fill="#d0d0d0"/><circle cx="354.2" cy="204.1" r="1.11" fill="#d0d0d0"/><circle cx="408.0" cy="192.3" r="0.81" fill="#d0d0d0"/><circle cx="430.4" cy="202.8" r="0.73" fill="#a8a8a8"/><circle cx="410.9" cy="188.2" r="0.78" fill="#d0d0d0"/><circle cx="370.0" cy="200.6" r="1.15" fill="#a8a8a8"/><circle cx="372.7" cy="191.2" r="1.22" fill="#bcbcbc"/><circle cx="400.1" cy="212.5" r="1.17" fill="#a8a8a8"/><circle cx="355.8" cy="208.4" r="0.85" fill="#bcbcbc"/><circle cx="434.6" cy="190.3" r="0.63" fill="#c6c6c6"/><circle cx="363.1" cy="190.5" r="0.80" fill="#bcbcbc"/><circle cx="390.6" cy="194.1" r="1.00" fill="#d0d0d0"/><circle cx="425.2" cy="216.2" r="0.71" fill="#c6c6c6"/><circle cx="355.1" cy="198.2" r="0.85" fill="#c6c6c6"/><circle cx="432.6" cy="199.0" r="0.71" fill="#b4b4b4"/><circle cx="364.3" cy="207.1" r="0.63" fill="#a8a8a8"/><circle cx="421.7" cy="215.4" r="1.23" fill="#bcbcbc"/><circle cx="412.7" cy="189.4" r="0.74" fill="#c6c6c6"/><circle cx="432.2" cy="186.5" r="1.10" fill="#a8a8a8"/><circle cx="374.2" cy="191.4" r="0.87" fill="#a8a8a8"/><circle cx="424.5" cy="206.3" r="0.77" fill="#d0d0d0"/><circle cx="383.8" cy="184.7" r="1.17" fill="#bcbcbc"/><circle cx="426.5" cy="203.1" r="0.90" fill="#a8a8a8"/><circle cx="420.5" cy="204.2" r="0.98" fill="#c6c6c6"/><circle cx="378.9" cy="203.6" r="0.77" fill="#b4b4b4"/><circle cx="371.5" cy="202.9" r="0.82" fill="#c6c6c6"/><circle cx="384.7" cy="199.0" r="1.02" fill="#a8a8a8"/><circle cx="358.0" cy="209.3" r="1.20" fill="#a8a8a8"/><circle cx="380.9" cy="201.4" r="1.25" fill="#c6c6c6"/><circle cx="395.8" cy="209.9" r="0.67" fill="#d0d0d0"/><circle cx="406.1" cy="213.6" r="0.80" fill="#d0d0d0"/><circle cx="362.2" cy="184.8" r="0.62" fill="#a8a8a8"/><circle cx="407.0" cy="198.9" r="1.01" fill="#a8a8a8"/><circle cx="382.5" cy="198.8" r="0.81" fill="#a8a8a8"/><circle cx="418.5" cy="188.6" r="0.55" fill="#a8a8a8"/><circle cx="356.8" cy="185.8" r="0.74" fill="#a8a8a8"/><circle cx="373.2" cy="189.1" r="0.92" fill="#d0d0d0"/><circle cx="423.3" cy="186.7" r="1.10" fill="#b4b4b4"/><circle cx="422.7" cy="201.0" r="0.69" fill="#c6c6c6"/><circle cx="358.6" cy="195.9" r="0.84" fill="#c6c6c6"/><circle cx="363.2" cy="207.6" r="0.71" fill="#bcbcbc"/><circle cx="398.0" cy="208.2" r="0.63" fill="#bcbcbc"/><circle cx="422.4" cy="200.7" r="0.90" fill="#bcbcbc"/><circle cx="411.0" cy="197.3" r="1.03" fill="#d0d0d0"/><circle cx="356.2" cy="202.8" r="0.68" fill="#c6c6c6"/><circle cx="367.5" cy="199.5" r="0.61" fill="#d0d0d0"/><circle cx="373.2" cy="211.6" r="0.91" fill="#d0d0d0"/><circle cx="408.5" cy="190.7" r="0.82" fill="#d0d0d0"/><circle cx="423.1" cy="188.8" r="0.59" fill="#b4b4b4"/><circle cx="406.1" cy="214.4" r="1.05" fill="#bcbcbc"/><circle cx="382.4" cy="209.5" r="1.19" fill="#b4b4b4"/><circle cx="407.1" cy="206.7" r="0.60" fill="#b4b4b4"/><circle cx="388.4" cy="186.6" r="1.23" fill="#b4b4b4"/><circle cx="389.7" cy="214.5" r="1.16" fill="#c6c6c6"/><circle cx="367.0" cy="211.6" r="0.65" fill="#c6c6c6"/><circle cx="419.6" cy="197.9" r="1.05" fill="#bcbcbc"/><circle cx="393.4" cy="204.6" r="0.76" fill="#bcbcbc"/><circle cx="396.4" cy="185.0" r="1.05" fill="#b4b4b4"/><circle cx="373.4" cy="213.4" r="0.66" fill="#c6c6c6"/><circle cx="377.7" cy="188.8" r="0.70" fill="#bcbcbc"/><circle cx="405.2" cy="187.5" r="0.62" fill="#d0d0d0"/><circle cx="364.4" cy="186.0" r="0.83" fill="#c6c6c6"/><circle cx="376.1" cy="192.2" r="0.90" fill="#c6c6c6"/><circle cx="368.6" cy="189.6" r="0.96" fill="#c6c6c6"/><circle cx="368.7" cy="196.9" r="1.09" fill="#bcbcbc"/><circle cx="400.0" cy="190.4" r="0.62" fill="#c6c6c6"/><circle cx="380.6" cy="214.9" r="0.59" fill="#a8a8a8"/><circle cx="381.1" cy="197.3" r="0.80" fill="#c6c6c6"/><circle cx="417.4" cy="190.3" r="0.94" fill="#c6c6c6"/><circle cx="384.6" cy="180.4" r="0.96" fill="#d0d0d0"/><circle cx="381.3" cy="193.2" r="0.66" fill="#bcbcbc"/><circle cx="407.0" cy="182.4" r="1.00" fill="#d0d0d0"/><circle cx="377.2" cy="188.9" r="0.72" fill="#bcbcbc"/><circle cx="393.2" cy="199.4" r="0.88" fill="#bcbcbc"/><circle cx="396.4" cy="188.1" r="0.62" fill="#c6c6c6"/><circle cx="392.5" cy="209.1" r="1.03" fill="#bcbcbc"/><circle cx="361.1" cy="200.7" r="1.01" fill="#bcbcbc"/><circle cx="401.7" cy="216.4" r="0.98" fill="#bcbcbc"/><circle cx="390.3" cy="214.0" r="1.21" fill="#d0d0d0"/><circle cx="364.3" cy="198.4" r="1.11" fill="#bcbcbc"/><circle cx="368.9" cy="214.1" r="1.05" fill="#c6c6c6"/><circle cx="414.4" cy="203.2" r="0.99" fill="#a8a8a8"/><circle cx="407.8" cy="207.3" r="1.13" fill="#a8a8a8"/><circle cx="418.6" cy="201.4" r="1.13" fill="#b4b4b4"/><circle cx="376.8" cy="215.5" r="1.21" fill="#c6c6c6"/><circle cx="414.3" cy="211.2" r="0.96" fill="#b4b4b4"/><circle cx="408.9" cy="206.0" r="1.10" fill="#a8a8a8"/><circle cx="420.5" cy="194.4" r="1.01" fill="#a8a8a8"/><circle cx="407.1" cy="213.4" r="0.76" fill="#a8a8a8"/><circle cx="392.6" cy="179.6" r="1.12" fill="#d0d0d0"/><circle cx="386.1" cy="190.4" r="0.93" fill="#c6c6c6"/><circle cx="381.4" cy="211.1" r="0.75" fill="#c6c6c6"/><circle cx="385.8" cy="199.5" r="0.70" fill="#c6c6c6"/><circle cx="383.2" cy="213.1" r="0.78" fill="#bcbcbc"/><circle cx="402.7" cy="213.0" r="0.90" fill="#b4b4b4"/><circle cx="432.4" cy="193.9" r="1.15" fill="#c6c6c6"/><circle cx="372.8" cy="192.4" r="0.94" fill="#b4b4b4"/><circle cx="373.0" cy="194.8" r="0.78" fill="#a8a8a8"/><circle cx="404.4" cy="193.3" r="1.02" fill="#d0d0d0"/><circle cx="392.9" cy="205.3" r="1.16" fill="#c6c6c6"/><circle cx="398.3" cy="196.0" r="1.17" fill="#b4b4b4"/><circle cx="364.0" cy="201.3" r="0.58" fill="#d0d0d0"/><circle cx="404.1" cy="188.2" r="0.57" fill="#b4b4b4"/><circle cx="410.9" cy="205.3" r="0.66" fill="#b4b4b4"/><circle cx="357.1" cy="190.7" r="1.03" fill="#c6c6c6"/><circle cx="381.9" cy="205.4" r="1.17" fill="#d0d0d0"/><circle cx="368.4" cy="191.2" r="0.63" fill="#a8a8a8"/><circle cx="403.7" cy="198.0" r="0.66" fill="#a8a8a8"/><circle cx="355.6" cy="189.6" r="1.01" fill="#d0d0d0"/><circle cx="414.5" cy="189.5" r="1.19" fill="#b4b4b4"/><circle cx="419.3" cy="211.4" r="0.86" fill="#c6c6c6"/><circle cx="355.4" cy="210.4" r="0.80" fill="#a8a8a8"/><circle cx="374.0" cy="188.2" r="0.93" fill="#b4b4b4"/><circle cx="361.2" cy="190.7" r="1.23" fill="#c6c6c6"/><circle cx="413.6" cy="192.0" r="1.11" fill="#a8a8a8"/><circle cx="423.8" cy="206.1" r="1.06" fill="#d0d0d0"/><circle cx="407.6" cy="213.3" r="0.79" fill="#c6c6c6"/><circle cx="428.7" cy="181.5" r="0.95" fill="#bcbcbc"/><circle cx="400.0" cy="194.3" r="0.74" fill="#bcbcbc"/><circle cx="364.5" cy="204.5" r="0.90" fill="#a8a8a8"/><circle cx="405.9" cy="212.4" r="1.04" fill="#d0d0d0"/><circle cx="402.8" cy="189.5" r="0.97" fill="#b4b4b4"/><circle cx="374.7" cy="187.1" r="0.62" fill="#b4b4b4"/><circle cx="363.5" cy="189.5" r="0.86" fill="#b4b4b4"/><circle cx="390.8" cy="197.4" r="1.21" fill="#a8a8a8"/><circle cx="396.0" cy="187.8" r="1.12" fill="#a8a8a8"/><circle cx="354.5" cy="208.6" r="0.90" fill="#d0d0d0"/><circle cx="383.1" cy="215.3" r="0.61" fill="#c6c6c6"/><circle cx="385.2" cy="198.5" r="0.71" fill="#c6c6c6"/><circle cx="418.7" cy="215.5" r="1.24" fill="#c6c6c6"/><circle cx="405.3" cy="200.9" r="1.23" fill="#b4b4b4"/><circle cx="389.7" cy="192.0" r="0.83" fill="#a8a8a8"/><circle cx="413.7" cy="208.4" r="1.08" fill="#a8a8a8"/><circle cx="412.0" cy="206.3" r="0.69" fill="#c6c6c6"/><circle cx="396.6" cy="200.2" r="0.95" fill="#a8a8a8"/><circle cx="434.3" cy="190.6" r="0.67" fill="#a8a8a8"/><circle cx="382.2" cy="212.6" r="0.61" fill="#a8a8a8"/><circle cx="362.6" cy="183.1" r="0.91" fill="#bcbcbc"/><circle cx="395.1" cy="208.4" r="0.66" fill="#d0d0d0"/><circle cx="400.6" cy="193.4" r="1.13" fill="#c6c6c6"/><circle cx="403.8" cy="212.6" r="1.00" fill="#bcbcbc"/><circle cx="391.0" cy="212.5" r="0.63" fill="#d0d0d0"/><circle cx="413.6" cy="180.5" r="1.23" fill="#c6c6c6"/><circle cx="373.8" cy="184.8" r="1.08" fill="#c6c6c6"/><circle cx="415.0" cy="212.5" r="0.65" fill="#b4b4b4"/><circle cx="365.5" cy="198.5" r="1.10" fill="#d0d0d0"/><circle cx="398.1" cy="210.2" r="0.98" fill="#b4b4b4"/><circle cx="417.7" cy="199.4" r="1.01" fill="#b4b4b4"/><circle cx="376.2" cy="194.1" r="1.07" fill="#c6c6c6"/><circle cx="369.3" cy="205.9" r="1.02" fill="#c6c6c6"/><circle cx="425.2" cy="216.4" r="0.74" fill="#a8a8a8"/><circle cx="433.2" cy="208.2" r="0.60" fill="#c6c6c6"/><circle cx="408.7" cy="208.2" r="0.82" fill="#d0d0d0"/><circle cx="428.7" cy="200.8" r="1.08" fill="#c6c6c6"/><circle cx="387.8" cy="212.4" r="1.21" fill="#d0d0d0"/><circle cx="406.4" cy="197.0" r="1.08" fill="#a8a8a8"/><circle cx="374.8" cy="188.5" r="0.56" fill="#bcbcbc"/><circle cx="354.9" cy="211.4" r="0.79" fill="#c6c6c6"/><circle cx="396.6" cy="215.7" r="0.92" fill="#b4b4b4"/><circle cx="395.1" cy="208.5" r="1.00" fill="#bcbcbc"/><circle cx="375.9" cy="213.4" r="0.73" fill="#c6c6c6"/><circle cx="414.5" cy="188.4" r="0.57" fill="#bcbcbc"/><circle cx="405.2" cy="202.5" r="1.07" fill="#bcbcbc"/><circle cx="406.5" cy="201.7" r="0.76" fill="#c6c6c6"/><circle cx="412.6" cy="199.4" r="0.60" fill="#b4b4b4"/><circle cx="409.1" cy="189.4" r="0.67" fill="#c6c6c6"/><circle cx="373.2" cy="194.0" r="0.67" fill="#c6c6c6"/><circle cx="423.5" cy="196.5" r="0.69" fill="#d0d0d0"/><circle cx="418.6" cy="204.5" r="0.56" fill="#bcbcbc"/><circle cx="406.9" cy="190.9" r="0.58" fill="#d0d0d0"/><circle cx="406.1" cy="200.6" r="0.60" fill="#c6c6c6"/><circle cx="381.5" cy="199.6" r="0.81" fill="#a8a8a8"/><circle cx="382.8" cy="185.3" r="1.16" fill="#bcbcbc"/><circle cx="375.7" cy="193.5" r="0.71" fill="#bcbcbc"/><circle cx="372.0" cy="212.9" r="0.56" fill="#c6c6c6"/><circle cx="407.1" cy="210.8" r="0.57" fill="#d0d0d0"/><circle cx="392.8" cy="194.4" r="1.20" fill="#bcbcbc"/><circle cx="374.1" cy="195.9" r="0.79" fill="#c6c6c6"/><circle cx="357.9" cy="187.5" r="0.94" fill="#d0d0d0"/><circle cx="369.6" cy="182.2" r="1.20" fill="#d0d0d0"/><circle cx="391.4" cy="188.8" r="0.99" fill="#b4b4b4"/><circle cx="407.1" cy="184.3" r="0.82" fill="#a8a8a8"/><circle cx="413.5" cy="211.6" r="1.18" fill="#bcbcbc"/><circle cx="377.3" cy="190.9" r="0.60" fill="#c6c6c6"/><circle cx="371.3" cy="197.1" r="1.21" fill="#d0d0d0"/><circle cx="368.0" cy="196.9" r="1.10" fill="#a8a8a8"/><circle cx="370.8" cy="215.5" r="0.83" fill="#a8a8a8"/><circle cx="386.3" cy="205.9" r="1.09" fill="#bcbcbc"/><circle cx="373.4" cy="196.3" r="1.05" fill="#bcbcbc"/><circle cx="373.7" cy="200.4" r="0.84" fill="#bcbcbc"/><circle cx="414.5" cy="185.4" r="0.61" fill="#d0d0d0"/><circle cx="417.6" cy="188.6" r="0.71" fill="#bcbcbc"/><circle cx="419.0" cy="203.8" r="0.63" fill="#bcbcbc"/><circle cx="393.5" cy="199.2" r="0.81" fill="#b4b4b4"/><circle cx="431.9" cy="186.3" r="1.18" fill="#b4b4b4"/><circle cx="373.4" cy="210.2" r="0.59" fill="#d0d0d0"/><circle cx="388.9" cy="191.9" r="1.22" fill="#bcbcbc"/><circle cx="397.0" cy="194.2" r="1.07" fill="#a8a8a8"/><circle cx="413.0" cy="192.7" r="1.09" fill="#bcbcbc"/><circle cx="403.1" cy="203.6" r="0.87" fill="#a8a8a8"/><circle cx="399.9" cy="192.5" r="0.86" fill="#bcbcbc"/><circle cx="416.8" cy="194.0" r="0.99" fill="#a8a8a8"/><circle cx="410.5" cy="215.7" r="1.09" fill="#a8a8a8"/><circle cx="405.8" cy="185.2" r="0.87" fill="#b4b4b4"/><circle cx="355.8" cy="213.1" r="0.84" fill="#b4b4b4"/><circle cx="374.6" cy="181.7" r="0.67" fill="#bcbcbc"/><circle cx="411.0" cy="216.5" r="0.63" fill="#c6c6c6"/><circle cx="395.4" cy="191.2" r="0.89" fill="#a8a8a8"/><circle cx="379.6" cy="214.2" r="0.74" fill="#c6c6c6"/><circle cx="403.8" cy="205.5" r="1.10" fill="#a8a8a8"/><circle cx="380.4" cy="197.7" r="1.20" fill="#b4b4b4"/><circle cx="387.1" cy="190.2" r="0.77" fill="#c6c6c6"/><circle cx="417.7" cy="187.8" r="1.01" fill="#b4b4b4"/><circle cx="369.9" cy="210.9" r="1.08" fill="#b4b4b4"/><circle cx="387.1" cy="199.3" r="0.57" fill="#c6c6c6"/><circle cx="370.3" cy="190.1" r="1.03" fill="#b4b4b4"/><circle cx="357.1" cy="196.6" r="1.04" fill="#a8a8a8"/><circle cx="384.9" cy="198.9" r="1.09" fill="#a8a8a8"/><circle cx="390.3" cy="186.5" r="0.90" fill="#b4b4b4"/><circle cx="424.2" cy="205.1" r="0.77" fill="#c6c6c6"/><circle cx="360.8" cy="181.7" r="0.89" fill="#a8a8a8"/><circle cx="418.7" cy="198.5" r="1.15" fill="#d0d0d0"/><circle cx="415.9" cy="193.1" r="1.20" fill="#a8a8a8"/><circle cx="404.9" cy="189.6" r="1.24" fill="#b4b4b4"/><circle cx="362.7" cy="196.7" r="0.76" fill="#c6c6c6"/><circle cx="422.8" cy="204.1" r="0.91" fill="#bcbcbc"/><circle cx="356.3" cy="189.9" r="0.64" fill="#c6c6c6"/><circle cx="402.1" cy="194.4" r="0.82" fill="#d0d0d0"/><circle cx="390.0" cy="200.0" r="1.21" fill="#d0d0d0"/><circle cx="391.2" cy="215.3" r="0.75" fill="#d0d0d0"/><circle cx="414.2" cy="213.8" r="1.16" fill="#b4b4b4"/><circle cx="380.1" cy="188.4" r="0.88" fill="#bcbcbc"/><circle cx="406.8" cy="181.1" r="0.71" fill="#a8a8a8"/><circle cx="422.4" cy="210.1" r="0.81" fill="#a8a8a8"/><circle cx="403.3" cy="194.0" r="1.21" fill="#c6c6c6"/><circle cx="425.6" cy="207.7" r="1.19" fill="#c6c6c6"/><circle cx="419.5" cy="188.6" r="0.82" fill="#a8a8a8"/><circle cx="363.1" cy="199.5" r="1.12" fill="#a8a8a8"/><circle cx="426.4" cy="185.6" r="1.09" fill="#b4b4b4"/><circle cx="397.5" cy="196.3" r="1.10" fill="#bcbcbc"/><circle cx="412.5" cy="192.7" r="0.63" fill="#c6c6c6"/><circle cx="403.0" cy="197.9" r="1.15" fill="#d0d0d0"/><circle cx="377.8" cy="197.1" r="1.00" fill="#b4b4b4"/><circle cx="391.0" cy="213.2" r="0.77" fill="#a8a8a8"/><circle cx="420.8" cy="198.7" r="0.84" fill="#bcbcbc"/><circle cx="369.3" cy="192.8" r="1.22" fill="#c6c6c6"/><circle cx="406.3" cy="200.6" r="0.95" fill="#c6c6c6"/><circle cx="411.6" cy="195.3" r="0.92" fill="#b4b4b4"/><circle cx="417.5" cy="192.6" r="1.07" fill="#c6c6c6"/><circle cx="388.0" cy="193.5" r="1.20" fill="#bcbcbc"/><circle cx="411.1" cy="187.2" r="0.66" fill="#bcbcbc"/><circle cx="387.2" cy="201.9" r="0.74" fill="#d0d0d0"/><circle cx="370.0" cy="202.9" r="1.09" fill="#a8a8a8"/><circle cx="433.0" cy="206.4" r="0.87" fill="#b4b4b4"/><circle cx="388.7" cy="182.3" r="1.11" fill="#d0d0d0"/><circle cx="363.8" cy="196.5" r="1.25" fill="#a8a8a8"/><circle cx="370.9" cy="212.0" r="0.86" fill="#a8a8a8"/><circle cx="365.4" cy="187.3" r="0.69" fill="#a8a8a8"/><circle cx="362.3" cy="190.3" r="1.14" fill="#b4b4b4"/><circle cx="392.4" cy="214.9" r="0.69" fill="#b4b4b4"/><circle cx="394.2" cy="198.0" r="0.80" fill="#d0d0d0"/><circle cx="387.3" cy="192.4" r="0.82" fill="#bcbcbc"/><circle cx="390.6" cy="210.7" r="0.58" fill="#d0d0d0"/><circle cx="385.3" cy="195.4" r="0.94" fill="#c6c6c6"/><circle cx="397.6" cy="194.3" r="0.63" fill="#c6c6c6"/><circle cx="403.2" cy="209.6" r="0.74" fill="#b4b4b4"/><circle cx="426.3" cy="192.3" r="1.20" fill="#d0d0d0"/><circle cx="361.6" cy="188.7" r="0.95" fill="#a8a8a8"/><circle cx="353.4" cy="209.4" r="1.12" fill="#b4b4b4"/><circle cx="393.1" cy="214.7" r="0.60" fill="#bcbcbc"/><circle cx="356.9" cy="209.6" r="0.71" fill="#c6c6c6"/><circle cx="397.7" cy="216.0" r="0.65" fill="#bcbcbc"/><circle cx="355.3" cy="197.9" r="0.85" fill="#bcbcbc"/><circle cx="401.6" cy="216.1" r="0.59" fill="#c6c6c6"/><circle cx="355.2" cy="191.5" r="0.67" fill="#d0d0d0"/><circle cx="365.4" cy="185.9" r="1.02" fill="#bcbcbc"/><circle cx="384.4" cy="188.6" r="1.23" fill="#bcbcbc"/><circle cx="404.0" cy="203.9" r="0.99" fill="#c6c6c6"/><circle cx="353.1" cy="195.7" r="0.99" fill="#d0d0d0"/><circle cx="394.4" cy="184.6" r="1.10" fill="#b4b4b4"/><circle cx="363.8" cy="185.7" r="1.03" fill="#c6c6c6"/><circle cx="393.5" cy="214.1" r="1.21" fill="#a8a8a8"/><circle cx="386.4" cy="204.4" r="1.06" fill="#d0d0d0"/><circle cx="379.7" cy="197.2" r="1.24" fill="#bcbcbc"/><circle cx="378.3" cy="193.3" r="1.18" fill="#b4b4b4"/><circle cx="378.4" cy="207.8" r="0.98" fill="#bcbcbc"/><circle cx="358.9" cy="194.7" r="0.91" fill="#c6c6c6"/><circle cx="359.2" cy="208.5" r="0.74" fill="#c6c6c6"/><circle cx="416.9" cy="186.8" r="0.90" fill="#b4b4b4"/><circle cx="385.3" cy="215.1" r="0.63" fill="#bcbcbc"/><circle cx="419.3" cy="190.2" r="1.16" fill="#bcbcbc"/><circle cx="373.6" cy="198.2" r="0.57" fill="#c6c6c6"/><circle cx="422.7" cy="212.9" r="0.88" fill="#d0d0d0"/><circle cx="405.6" cy="207.8" r="1.14" fill="#a8a8a8"/><circle cx="391.3" cy="208.9" r="1.19" fill="#bcbcbc"/><circle cx="403.8" cy="215.8" r="0.84" fill="#d0d0d0"/><circle cx="431.8" cy="214.1" r="1.03" fill="#b4b4b4"/><circle cx="359.9" cy="193.4" r="1.23" fill="#d0d0d0"/><circle cx="400.3" cy="215.7" r="0.93" fill="#a8a8a8"/><circle cx="415.9" cy="191.1" r="1.22" fill="#d0d0d0"/><circle cx="407.6" cy="192.7" r="0.76" fill="#bcbcbc"/><circle cx="410.9" cy="201.3" r="0.70" fill="#c6c6c6"/><circle cx="369.1" cy="198.3" r="1.14" fill="#c6c6c6"/><circle cx="408.3" cy="206.1" r="0.58" fill="#d0d0d0"/><circle cx="409.5" cy="198.6" r="1.05" fill="#b4b4b4"/><circle cx="366.9" cy="210.6" r="1.20" fill="#a8a8a8"/><circle cx="353.8" cy="180.0" r="0.85" fill="#b4b4b4"/><circle cx="373.2" cy="184.4" r="0.65" fill="#b4b4b4"/><circle cx="390.5" cy="207.5" r="0.72" fill="#bcbcbc"/><circle cx="371.7" cy="207.8" r="1.13" fill="#bcbcbc"/><circle cx="387.6" cy="197.1" r="1.23" fill="#c6c6c6"/><circle cx="402.1" cy="185.9" r="0.61" fill="#a8a8a8"/><circle cx="414.6" cy="191.9" r="1.08" fill="#c6c6c6"/><circle cx="394.5" cy="214.6" r="0.66" fill="#a8a8a8"/><circle cx="387.9" cy="214.4" r="0.91" fill="#bcbcbc"/><circle cx="417.6" cy="189.8" r="0.58" fill="#b4b4b4"/><circle cx="413.6" cy="206.2" r="0.67" fill="#bcbcbc"/><circle cx="388.0" cy="204.1" r="1.18" fill="#c6c6c6"/><circle cx="410.2" cy="204.2" r="0.84" fill="#b4b4b4"/><circle cx="409.1" cy="216.8" r="0.74" fill="#a8a8a8"/><circle cx="370.5" cy="194.2" r="0.85" fill="#bcbcbc"/><circle cx="373.8" cy="202.9" r="1.03" fill="#a8a8a8"/><circle cx="368.1" cy="204.5" r="1.12" fill="#a8a8a8"/><circle cx="385.8" cy="210.4" r="0.86" fill="#bcbcbc"/><circle cx="423.8" cy="203.2" r="1.16" fill="#c6c6c6"/><circle cx="361.6" cy="193.5" r="0.55" fill="#c6c6c6"/><circle cx="398.4" cy="214.5" r="1.22" fill="#b4b4b4"/><circle cx="396.3" cy="190.8" r="1.06" fill="#bcbcbc"/><circle cx="383.0" cy="198.4" r="0.71" fill="#a8a8a8"/><circle cx="406.7" cy="183.9" r="0.85" fill="#b4b4b4"/><circle cx="367.4" cy="199.2" r="1.09" fill="#d0d0d0"/><circle cx="416.8" cy="198.7" r="1.20" fill="#b4b4b4"/><circle cx="397.0" cy="199.7" r="1.13" fill="#c6c6c6"/><circle cx="419.9" cy="197.3" r="0.70" fill="#d0d0d0"/><circle cx="423.6" cy="206.0" r="0.61" fill="#a8a8a8"/><circle cx="412.9" cy="186.9" r="1.10" fill="#a8a8a8"/><circle cx="404.7" cy="205.4" r="0.59" fill="#a8a8a8"/><circle cx="386.0" cy="195.6" r="1.17" fill="#a8a8a8"/><circle cx="418.8" cy="187.7" r="0.63" fill="#bcbcbc"/><circle cx="392.5" cy="193.0" r="0.89" fill="#bcbcbc"/><circle cx="388.5" cy="195.0" r="1.23" fill="#bcbcbc"/><circle cx="411.2" cy="192.4" r="1.02" fill="#bcbcbc"/><circle cx="387.5" cy="186.3" r="0.81" fill="#c6c6c6"/><circle cx="361.2" cy="189.3" r="1.25" fill="#a8a8a8"/><circle cx="416.9" cy="207.0" r="0.77" fill="#bcbcbc"/><circle cx="408.4" cy="202.7" r="0.56" fill="#b4b4b4"/><circle cx="402.7" cy="190.2" r="1.15" fill="#bcbcbc"/><circle cx="371.4" cy="201.3" r="0.78" fill="#c6c6c6"/><circle cx="359.5" cy="196.5" r="0.86" fill="#d0d0d0"/><circle cx="379.6" cy="194.2" r="0.85" fill="#a8a8a8"/><circle cx="400.7" cy="193.3" r="1.11" fill="#a8a8a8"/><circle cx="374.3" cy="208.5" r="1.24" fill="#c6c6c6"/><circle cx="407.1" cy="196.6" r="0.67" fill="#b4b4b4"/><circle cx="421.9" cy="199.8" r="1.11" fill="#c6c6c6"/><circle cx="424.3" cy="205.3" r="1.18" fill="#bcbcbc"/><circle cx="382.6" cy="195.4" r="0.75" fill="#a8a8a8"/><circle cx="394.8" cy="216.3" r="0.91" fill="#d0d0d0"/><circle cx="361.5" cy="190.0" r="0.70" fill="#d0d0d0"/><circle cx="381.7" cy="191.7" r="0.94" fill="#a8a8a8"/><circle cx="361.5" cy="185.1" r="1.18" fill="#bcbcbc"/><circle cx="385.4" cy="185.2" r="1.02" fill="#d0d0d0"/><circle cx="381.9" cy="188.8" r="1.04" fill="#bcbcbc"/><circle cx="421.0" cy="193.2" r="0.57" fill="#bcbcbc"/><circle cx="425.7" cy="191.2" r="0.58" fill="#b4b4b4"/><circle cx="391.2" cy="186.5" r="1.00" fill="#bcbcbc"/><circle cx="373.5" cy="203.5" r="0.98" fill="#bcbcbc"/><circle cx="406.7" cy="212.0" r="0.92" fill="#d0d0d0"/><circle cx="407.8" cy="207.2" r="0.64" fill="#a8a8a8"/><circle cx="393.0" cy="199.9" r="0.59" fill="#c6c6c6"/><circle cx="358.7" cy="202.7" r="1.03" fill="#b4b4b4"/><circle cx="366.7" cy="210.5" r="0.56" fill="#bcbcbc"/><circle cx="388.5" cy="210.5" r="0.92" fill="#bcbcbc"/><circle cx="368.9" cy="213.1" r="0.57" fill="#a8a8a8"/><circle cx="382.9" cy="213.6" r="1.05" fill="#c6c6c6"/><circle cx="365.3" cy="190.1" r="1.19" fill="#c6c6c6"/><circle cx="419.3" cy="206.8" r="0.61" fill="#b4b4b4"/><circle cx="383.7" cy="199.6" r="1.11" fill="#bcbcbc"/><circle cx="430.0" cy="187.4" r="1.22" fill="#b4b4b4"/><circle cx="372.6" cy="205.4" r="0.71" fill="#bcbcbc"/><circle cx="388.5" cy="209.0" r="0.79" fill="#d0d0d0"/><circle cx="424.7" cy="192.6" r="0.79" fill="#d0d0d0"/><circle cx="365.0" cy="208.0" r="0.68" fill="#b4b4b4"/><circle cx="369.4" cy="215.0" r="0.72" fill="#b4b4b4"/><circle cx="404.8" cy="197.3" r="0.96" fill="#bcbcbc"/><circle cx="377.1" cy="209.1" r="0.94" fill="#b4b4b4"/><circle cx="408.3" cy="210.0" r="1.02" fill="#d0d0d0"/><circle cx="367.7" cy="182.8" r="0.91" fill="#bcbcbc"/><circle cx="378.4" cy="203.5" r="0.74" fill="#c6c6c6"/><circle cx="367.2" cy="200.9" r="0.88" fill="#b4b4b4"/><circle cx="368.0" cy="203.5" r="0.62" fill="#bcbcbc"/><circle cx="388.9" cy="212.8" r="0.62" fill="#d0d0d0"/><circle cx="370.1" cy="208.7" r="1.06" fill="#bcbcbc"/><circle cx="365.1" cy="190.7" r="1.12" fill="#c6c6c6"/><circle cx="368.4" cy="186.8" r="1.13" fill="#a8a8a8"/><circle cx="392.6" cy="188.5" r="0.87" fill="#a8a8a8"/><circle cx="372.1" cy="212.4" r="1.08" fill="#c6c6c6"/><circle cx="361.5" cy="207.5" r="0.89" fill="#c6c6c6"/><circle cx="434.7" cy="186.9" r="1.08" fill="#d0d0d0"/><circle cx="406.1" cy="199.3" r="0.84" fill="#b4b4b4"/><circle cx="430.7" cy="198.5" r="0.86" fill="#b4b4b4"/><circle cx="421.0" cy="197.1" r="0.83" fill="#d0d0d0"/><circle cx="426.6" cy="195.4" r="0.73" fill="#d0d0d0"/><circle cx="404.5" cy="211.0" r="0.64" fill="#a8a8a8"/><circle cx="363.8" cy="193.9" r="0.76" fill="#d0d0d0"/><circle cx="388.7" cy="191.3" r="0.79" fill="#bcbcbc"/><circle cx="356.0" cy="182.0" r="0.76" fill="#b4b4b4"/><circle cx="409.1" cy="185.2" r="1.00" fill="#a8a8a8"/><circle cx="354.1" cy="206.5" r="0.68" fill="#d0d0d0"/><circle cx="361.8" cy="196.6" r="0.86" fill="#c6c6c6"/><circle cx="384.6" cy="207.7" r="0.63" fill="#c6c6c6"/><circle cx="364.7" cy="193.8" r="0.80" fill="#b4b4b4"/><circle cx="426.5" cy="188.0" r="0.84" fill="#c6c6c6"/><circle cx="360.5" cy="209.4" r="0.90" fill="#c6c6c6"/><circle cx="405.0" cy="210.0" r="0.97" fill="#c6c6c6"/><circle cx="363.4" cy="210.2" r="0.73" fill="#bcbcbc"/><circle cx="378.0" cy="215.6" r="1.23" fill="#b4b4b4"/><circle cx="423.7" cy="182.8" r="1.04" fill="#b4b4b4"/><circle cx="376.0" cy="200.8" r="0.87" fill="#a8a8a8"/><circle cx="376.8" cy="189.4" r="0.61" fill="#b4b4b4"/><circle cx="393.1" cy="187.7" r="0.91" fill="#b4b4b4"/><circle cx="376.2" cy="190.7" r="1.19" fill="#b4b4b4"/><circle cx="419.6" cy="202.3" r="1.25" fill="#bcbcbc"/><circle cx="419.2" cy="200.2" r="1.15" fill="#bcbcbc"/><circle cx="385.1" cy="185.6" r="0.76" fill="#c6c6c6"/><circle cx="367.3" cy="203.4" r="0.84" fill="#bcbcbc"/><circle cx="368.2" cy="204.3" r="1.23" fill="#a8a8a8"/><circle cx="385.4" cy="200.6" r="0.68" fill="#bcbcbc"/><circle cx="390.6" cy="210.9" r="1.07" fill="#b4b4b4"/><circle cx="374.2" cy="208.9" r="0.77" fill="#a8a8a8"/><circle cx="397.3" cy="185.7" r="1.17" fill="#b4b4b4"/><circle cx="369.6" cy="191.8" r="0.66" fill="#b4b4b4"/><circle cx="370.6" cy="211.2" r="1.14" fill="#a8a8a8"/><circle cx="430.8" cy="187.4" r="0.86" fill="#d0d0d0"/><circle cx="385.5" cy="188.1" r="0.87" fill="#d0d0d0"/><circle cx="400.3" cy="198.2" r="0.75" fill="#c6c6c6"/><circle cx="362.3" cy="211.2" r="1.05" fill="#d0d0d0"/><circle cx="397.6" cy="209.9" r="0.93" fill="#a8a8a8"/><circle cx="380.7" cy="185.1" r="1.24" fill="#a8a8a8"/><circle cx="382.8" cy="182.9" r="1.04" fill="#a8a8a8"/><circle cx="389.0" cy="196.5" r="0.77" fill="#c6c6c6"/><circle cx="409.2" cy="185.7" r="1.07" fill="#bcbcbc"/><circle cx="369.4" cy="186.9" r="0.68" fill="#a8a8a8"/><circle cx="416.7" cy="201.3" r="0.76" fill="#d0d0d0"/><circle cx="423.3" cy="197.6" r="0.81" fill="#c6c6c6"/><circle cx="400.6" cy="201.1" r="0.82" fill="#a8a8a8"/><circle cx="386.0" cy="215.4" r="0.92" fill="#c6c6c6"/><circle cx="392.8" cy="194.4" r="1.06" fill="#b4b4b4"/><circle cx="355.8" cy="212.4" r="0.74" fill="#c6c6c6"/><circle cx="420.6" cy="213.0" r="0.95" fill="#d0d0d0"/><circle cx="360.6" cy="202.9" r="0.59" fill="#a8a8a8"/><circle cx="397.1" cy="214.3" r="1.19" fill="#b4b4b4"/><circle cx="418.3" cy="204.1" r="1.17" fill="#b4b4b4"/><circle cx="404.6" cy="199.3" r="1.21" fill="#c6c6c6"/><circle cx="364.3" cy="206.0" r="1.09" fill="#bcbcbc"/><circle cx="371.8" cy="193.5" r="1.04" fill="#b4b4b4"/><circle cx="422.1" cy="215.6" r="0.81" fill="#b4b4b4"/><circle cx="365.5" cy="211.0" r="0.93" fill="#c6c6c6"/><circle cx="429.2" cy="199.6" r="1.16" fill="#d0d0d0"/><circle cx="419.3" cy="187.7" r="1.16" fill="#a8a8a8"/><circle cx="360.1" cy="208.1" r="0.99" fill="#a8a8a8"/><circle cx="410.6" cy="193.9" r="1.02" fill="#d0d0d0"/><circle cx="374.9" cy="188.6" r="0.64" fill="#a8a8a8"/><circle cx="415.6" cy="190.6" r="0.75" fill="#d0d0d0"/><circle cx="418.9" cy="199.5" r="0.62" fill="#d0d0d0"/><circle cx="425.0" cy="185.2" r="1.08" fill="#c6c6c6"/><circle cx="427.4" cy="194.2" r="0.87" fill="#c6c6c6"/><circle cx="424.5" cy="194.5" r="0.57" fill="#a8a8a8"/><circle cx="368.7" cy="201.3" r="0.79" fill="#d0d0d0"/><circle cx="396.1" cy="205.6" r="0.82" fill="#a8a8a8"/><circle cx="386.7" cy="190.1" r="0.86" fill="#d0d0d0"/><circle cx="375.4" cy="211.8" r="0.89" fill="#d0d0d0"/><circle cx="357.2" cy="195.9" r="0.90" fill="#d0d0d0"/><circle cx="360.6" cy="198.1" r="0.66" fill="#d0d0d0"/><circle cx="421.4" cy="215.6" r="1.00" fill="#b4b4b4"/><circle cx="406.8" cy="190.7" r="0.75" fill="#d0d0d0"/><circle cx="416.3" cy="201.4" r="0.98" fill="#bcbcbc"/><circle cx="386.3" cy="216.7" r="1.14" fill="#d0d0d0"/><circle cx="383.1" cy="210.5" r="1.08" fill="#d0d0d0"/><circle cx="382.8" cy="204.2" r="0.87" fill="#d0d0d0"/><circle cx="382.3" cy="183.1" r="0.91" fill="#b4b4b4"/><circle cx="406.9" cy="200.7" r="0.72" fill="#b4b4b4"/><circle cx="394.1" cy="216.6" r="0.82" fill="#d0d0d0"/><circle cx="356.7" cy="190.3" r="0.70" fill="#d0d0d0"/><circle cx="416.8" cy="195.8" r="0.92" fill="#c6c6c6"/><circle cx="412.8" cy="185.6" r="0.61" fill="#bcbcbc"/><circle cx="428.3" cy="210.2" r="0.60" fill="#b4b4b4"/><circle cx="379.0" cy="195.3" r="0.61" fill="#a8a8a8"/><circle cx="375.2" cy="195.9" r="0.68" fill="#bcbcbc"/><circle cx="426.8" cy="207.8" r="1.05" fill="#d0d0d0"/><circle cx="382.1" cy="189.4" r="1.12" fill="#b4b4b4"/><circle cx="417.0" cy="206.3" r="0.71" fill="#bcbcbc"/><circle cx="376.8" cy="206.5" r="1.08" fill="#b4b4b4"/><circle cx="358.9" cy="211.9" r="1.08" fill="#b4b4b4"/><circle cx="397.3" cy="193.8" r="0.77" fill="#bcbcbc"/><circle cx="388.1" cy="203.7" r="0.70" fill="#c6c6c6"/><circle cx="391.0" cy="212.8" r="1.09" fill="#a8a8a8"/><circle cx="376.2" cy="205.2" r="1.08" fill="#b4b4b4"/><circle cx="407.5" cy="186.8" r="0.97" fill="#bcbcbc"/><circle cx="434.0" cy="194.1" r="0.76" fill="#bcbcbc"/><circle cx="399.9" cy="185.6" r="0.63" fill="#b4b4b4"/><circle cx="364.3" cy="182.7" r="0.91" fill="#a8a8a8"/><circle cx="412.5" cy="187.4" r="1.10" fill="#d0d0d0"/><circle cx="373.8" cy="192.0" r="1.00" fill="#a8a8a8"/><circle cx="369.6" cy="183.4" r="0.63" fill="#bcbcbc"/><circle cx="393.4" cy="192.9" r="1.12" fill="#c6c6c6"/><circle cx="398.6" cy="197.1" r="0.64" fill="#a8a8a8"/><circle cx="381.1" cy="197.9" r="0.68" fill="#bcbcbc"/><circle cx="387.3" cy="216.3" r="1.05" fill="#c6c6c6"/><circle cx="359.1" cy="192.3" r="0.91" fill="#bcbcbc"/></g>
<g id="housing2"><ellipse cx="390.8" cy="212.4" rx="5.8" ry="3.4" fill="#c0c0c0" stroke-width="1.72"/><path d="M385.8 211.6 C387.5 209.8 394 209.7 396 211.4" stroke-width="2.07"/><path d="M383 222.4 C380.6 225.5 381 229.5 384 231.2 C387.5 233 391.5 231 394 228.5 L398.5 223.6" fill="#c0c0c0" stroke-width="1.72"/><circle cx="343.4" cy="180.9" r="2.9" stroke-width="1.84"/><circle cx="441.2" cy="185.6" r="2.9" stroke-width="1.84"/><circle cx="345" cy="210.4" r="2.9" stroke-width="1.84"/><circle cx="440" cy="217.4" r="2.9" stroke-width="1.84"/></g>
<g id="pipe"><path d="M430.8 23.4 L395 38 C390 40.2 387.6 43.5 387.2 48 L386.4 72" stroke-width="1.61"/><path d="M432.4 28 L397.4 42.6 C393.8 44.2 392.6 46.4 392.4 50 L391.8 72" stroke-width="1.61"/><path d="M430.8 23.4 C433 23.6 433.8 26.4 432.4 28" stroke-width="1.61"/><g transform="rotate(-2.6 391 72)"><path d="M382.2 74 C382.2 70.5 399.8 70.8 399.8 74.5 L400 142.4 C400 146.4 382.4 146 382.4 142.2 Z" fill="#c0c0c0" stroke-width="1.84"/><path d="M382.2 74.2 C383 78 399 78.2 399.8 74.6" stroke-width="1.38"/><path d="M384.8 79 V141 M387 82 V118" stroke-width="1.15"/><path d="M395.8 80 V143 M397.9 78 V143" stroke-width="1.49"/><path d="M386.6 145 L386.8 149.4 C387 152.2 396 152.4 396.2 149.6 L396.2 145.4" stroke-width="1.72"/><path d="M386.8 148.2 C388 150 395 150 396.2 148.4" stroke-width="1.15"/></g></g>
<g id="b13"><path d="M452 222.8 L564.2 182.8 L588.2 154.8 L610.9 155.6" stroke-width="1.72"/><path d="M456 241.4 L578.9 196.1 L610.9 155.6" stroke-width="1.72"/><path d="M578.9 196.1 L580.2 249.5 L612.2 212 L610.9 155.6" stroke-width="1.84"/><path d="M580.2 249.5 L557.8 259.3" stroke-width="1.49"/><ellipse cx="606" cy="171.6" rx="2.1" ry="3.1" fill="#6a6a6a" stroke-width="1.84"/><ellipse cx="587.7" cy="196.2" rx="2.1" ry="3.1" fill="#6a6a6a" stroke-width="1.84"/><ellipse cx="605.6" cy="209" rx="2.1" ry="3.1" fill="#6a6a6a" stroke-width="1.84"/><ellipse cx="589" cy="225" rx="2.1" ry="3.1" fill="#6a6a6a" stroke-width="1.84"/></g>
<path d="M454.4 240.6 L457.8 239.6 L457.8 253.4 L454.4 253.2 Z" fill="#1a1a1a" stroke-width="1.15"/>
<path d="M460.4 242.0V253.5M463.0 239.2V253.3M465.4 239.3V253.4M467.9 238.1V254.1M470.3 237.9V253.3M472.9 236.3V253.6M475.4 236.5V254.3M478.0 235.6V253.9M480.6 234.9V254.0M483.1 236.2V254.7M485.6 235.9V254.2M488.1 237.3V254.9M490.8 238.6V254.6" stroke-width="1.44" opacity="1"/>
<path d="M494.6 244.6 V249" stroke-width="1.15"/>
<g id="p11p12"><path d="M467.6 160.6 C466.2 162 466.6 164 467.4 165.6 L470.4 176.2" stroke-width="2.99"/><circle cx="468.2" cy="162" r="0.8" fill="#c0c0c0" stroke="none"/><path d="M459.4 190 L461.6 184.6 L467.6 182 L474 183.6 L476.8 188.6 L476 194.6 L471 198.6 L464.4 198.8 L460 195.4 Z" fill="#1a1a1a" stroke-width="1.84"/><path d="M468.6 184.2 L473.6 185.4 L474.6 188.6 L470.2 187.6 Z" fill="#b4b4b4" stroke="none"/><path d="M475 190.6 L474.6 194 L471.4 196.6 L472.4 192.6 Z" fill="#9a9a9a" stroke="none"/><ellipse cx="466.4" cy="191.8" rx="4.1" ry="3.9" fill="#a8a8a8" stroke-width="1.38"/><ellipse cx="466.2" cy="192" rx="2.2" ry="2" fill="#1a1a1a" stroke="none"/><ellipse cx="466" cy="192.2" rx="0.8" ry="0.7" fill="#999" stroke="none"/></g>
<g id="b21"><path d="M646.6 181.6 L647.4 229 C647.6 230.4 648.4 230.8 649.6 230.8 L680.2 230.6" fill="#c0c0c0" stroke-width="1.95"/><path d="M646.6 181.6 L676.6 181.8" stroke-width="2.18"/><path d="M646.6 181.6 L675.3 145.2 L707 133.6 L710.4 136.4 L710.4 153.8 L681.2 198.8" stroke-width="1.84"/><path d="M675.3 145.2 L682 147.2 L709.6 136.6" stroke-width="1.26"/><path d="M682 147.2 C681.6 158 679.4 172 678.2 182.6 C678 192 679 215 680.2 230.6" stroke-width="2.76"/><path d="M684.4 149 C684.6 160 683 174 681.2 186" stroke-width="1.15"/><path d="M699.3 173 L706 174 L705 178.8 L681 230.4" stroke-width="1.72"/><path d="M699.3 173 L681.4 200" stroke-width="1.84"/><path d="M698.6 178.6 L682 204.6 M699.6 182 L682 209.6 M700 186.6 L682 215 M699 193 L682 220.4 M696.4 201 L682 225.6" stroke-width="1.44"/><ellipse cx="689.7" cy="150.5" rx="1.9" ry="2.9" stroke-width="1.72"/><ellipse cx="704.1" cy="147.1" rx="1.9" ry="2.9" stroke-width="1.72"/><ellipse cx="689.1" cy="175.3" rx="1.9" ry="2.9" stroke-width="1.72"/><circle cx="661.3" cy="193.2" r="2.3" fill="#777" stroke-width="1.72"/><circle cx="660.9" cy="207.5" r="2.3" fill="#777" stroke-width="1.72"/><circle cx="661.9" cy="221.6" r="2.9" fill="#222" stroke-width="1.61"/><path d="M648.6 183.6 H668 M648.6 185.4 H658 M649 187.2 H653 M649 226 H660 M649 228 H678 M649 229.6 H678 M666 224 H674 M668 214 H674 M667 218 H673 M670 209 H673.6" stroke-width="1.03"/><path d="M664.6 158.6 H672 M661 163.6 H669.6 M657 168.6 H666 M653.6 173 H660 M668.6 154 H673" stroke-width="0.92"/></g>
<g id="bolts14"><path d="M633.4 170.3 H617.5 C615.6 170.3 615.6 175.7 617.5 175.7 H633.4" stroke-width="1.84"/><path d="M633.8 168.1 C637.4 166.9 642.0 168.7 642.1999999999999 173.2 C642.1999999999999 177.5 637.4 179.3 633.8 178.3 C632.4 175 632.4 171 633.8 168.1 Z" fill="#c0c0c0" stroke-width="2.18"/><path d="M635.8 169.1 C634.6 172 634.6 175 635.8 177.3" stroke-width="1.15"/><path d="M763 145.3 H746.1 C744.2 145.3 744.2 150.7 746.1 150.7 H763" stroke-width="1.84"/><path d="M763.4 143.1 C767 141.9 771.6 143.7 771.8 148.2 C771.8 152.5 767 154.3 763.4 153.3 C762 150 762 146 763.4 143.1 Z" fill="#c0c0c0" stroke-width="2.18"/><path d="M765.4 144.1 C764.2 147 764.2 150 765.4 152.3" stroke-width="1.15"/></g>
<g id="p151617"><ellipse cx="729.4" cy="180.4" rx="6.1" ry="6.5" transform="rotate(-20 729.4 180.4)" fill="#1a1a1a" stroke-width="1.61"/><path d="M726 178 L729.6 175.6 L733 177.4 L729.6 179.6 Z" fill="#8a8a8a" stroke="none"/><path d="M726.4 181.6 L729.4 183 L729.6 185.6 M732.6 180.6 L733 183.6" stroke="#7a7a7a" stroke-width="1.03"/><path d="M723.4 190.4 C720.6 188 715.6 189.4 715 193 C714.6 196.8 719.6 198.6 723.4 196.4" stroke-width="3.10"/><path d="M719.6 193.6 L724.4 194.2" stroke-width="2.18"/><ellipse cx="712.4" cy="203.1" rx="6.3" ry="6.1" fill="#1a1a1a" stroke-width="1.49"/><ellipse cx="712.2" cy="203.3" rx="2.7" ry="2.4" fill="#b8b8b8" stroke="none"/></g>
<g id="labels"><text x="140.4" y="111.8">6</text><text x="147.7" y="138.6">7</text><text x="153.5" y="167.5">8</text><text x="501.2" y="33.4">9</text><text x="515.6" y="68.4">10</text><text x="538.8" y="83.4">11</text><text x="549.6" y="102.6">12</text><text x="585.4" y="132.2">13</text><text x="655.4" y="121.4">14</text><text x="827.2" y="146.4">15</text><text x="822.2" y="165.2">16</text><text x="820" y="184.4">17</text><text x="823" y="208.4">5</text><text x="649.6" y="253.6">21</text><text x="339" y="404">20</text><text x="548.6" y="394">19</text><text x="751" y="431.8">18</text><text x="574.2" y="529.8">4</text><text x="549" y="552.2">3</text><text x="536.6" y="570.8">2</text><text x="518.8" y="585.8">1</text></g>
<g id="leaders" stroke-width="1.49"><path d="M423.5 33.2 L498 27.4"/><path d="M518.4 70.8 L397.2 154.4"/><path d="M538 86 L469.4 160"/><path d="M549 107 L474.6 186.6"/><path d="M594.4 138.8 L590 162.6"/><path d="M654.8 125.4 L632.4 170.6"/><path d="M677.4 120.8 L755 144"/><path d="M824.6 146 L733.6 177.4"/><path d="M818.6 165.2 L723 192.4"/><path d="M815 181.8 L716.4 204.8"/><path d="M820 209 L730.4 265.4"/><path d="M665.4 228.2 C665 233 663.4 236.4 661.2 239"/><path d="M313.4 368.2 L333.6 387"/><path d="M525.2 387.8 L542 384.4"/><path d="M555 485 L575 515"/><path d="M531.6 532.6 L547.6 543.6"/><path d="M490 546 L532.6 562.6"/><path d="M472.4 563.6 L515 576.6"/></g>
<path d="M736.8 376.4 C741 376.6 742.2 378.5 742.2 382 L742.2 418 C742.2 422 744 424.6 747.6 425.2 C744 425.8 742.2 428.4 742.2 432 L742.2 468 C742.2 471.5 741 473.6 737.6 474" stroke-width="1.38"/>
<circle cx="848.5" cy="587.5" r="0.9" fill="#333" stroke="none"/>
<g id="handle"><path d="M336 339 L336.6 352 C337 358 341 362 348 363.2" stroke-width="1.95"/><path d="M342 339.8 L342.6 350.6 C343 354.4 345.6 356.6 350.4 357.2" stroke-width="1.95"/><path d="M474 353 L473.2 364 C472.6 370.6 467 375.6 460 376.6" stroke-width="1.95"/><path d="M468 352.4 L467.2 362.6 C466.8 366.8 463.4 369.6 458.6 370.4" stroke-width="1.95"/></g>
<g id="tube"><path d="M352.4 354.2 L457.6 367.2 C461.6 369.2 461.6 379.8 456.0 381.8 L350.79999999999995 368.8 C346.9 365.8 347.4 356.2 352.4 354.2 Z" fill="#c0c0c0" stroke-width="1.49"/><path d="M453.6 366.8 C449.6 370.2 449.6 378.8 453.0 381.40000000000003" stroke-width="1.26"/><ellipse cx="457.20000000000005" cy="374.4" rx="3.2" ry="5.4" stroke-width="1.15"/>
<path d="M353.9 355.0 L353.9 360.1 L355.5 357.6 L356.9 359.6 L358.5 357.5 L360.0 360.5 L361.5 357.9 L363.3 360.2 L364.9 358.7 L366.5 361.7 L368.1 358.6 L369.4 361.6 L371.0 359.3 L372.9 362.3 L374.4 359.5 L376.3 362.3 L377.9 360.2 L379.5 362.5 L381.1 360.5 L382.5 363.7 L384.1 360.7 L385.4 363.8 L387.0 361.4 L388.4 363.9 L390.0 361.5 L391.8 364.3 L393.4 362.2 L395.0 365.4 L396.6 362.5 L398.2 365.7 L399.8 363.2 L401.3 365.0 L402.9 363.5 L404.3 366.3 L405.9 363.5 L407.7 366.3 L409.3 364.4 L410.8 366.1 L412.4 364.1 L414.2 366.9 L415.8 364.5 L417.6 367.6 L419.2 365.0 L420.8 367.4 L422.4 365.3 L423.8 367.9 L425.4 365.7 L426.8 368.1 L428.4 366.4 L430.2 369.3 L431.8 367.1 L433.2 369.4 L434.8 367.4 L436.4 369.4 L438.0 367.7 L439.6 370.2 L441.2 367.6 L442.8 370.3 L444.4 368.2 L446.2 371.4 L447.8 368.7 L449.2 371.8 L450.7 369.0 L452.3 372.5 L453.9 369.6 L452.6 367.2Z" fill="#1a1a1a" stroke="none"/><path d="M352.4 368.2 L352.9 362.4 L354.5 366.0 L355.9 363.8 L357.5 366.0 L359.1 364.1 L360.7 366.6 L362.3 364.5 L363.9 367.0 L365.5 364.2 L367.1 367.5 L368.5 364.9 L370.1 367.5 L371.7 365.3 L373.3 368.3 L374.9 365.9 L376.4 368.7 L377.8 365.6 L379.3 369.0 L380.7 365.8 L382.2 368.8 L383.9 365.8 L385.5 369.2 L387.0 366.6 L388.5 369.9 L390.3 366.7 L391.9 370.0 L393.5 368.3 L395.1 370.9 L396.8 367.6 L398.4 371.2 L399.9 368.0 L401.5 371.3 L403.3 368.2 L404.8 371.5 L406.4 369.7 L408.0 372.1 L409.5 369.5 L411.1 372.4 L413.0 369.7 L414.6 373.4 L416.3 371.3 L417.9 373.6 L419.4 370.5 L421.0 373.5 L422.7 371.4 L424.3 374.5 L426.1 372.4 L427.7 374.6 L429.5 371.8 L431.0 375.1 L432.9 372.2 L434.5 375.9 L436.3 373.7 L437.9 376.2 L439.7 373.9 L441.3 376.4 L443.1 373.9 L444.7 377.0 L446.1 373.6 L447.7 377.1 L449.1 373.8 L450.7 377.7 L451.6 380.5Z" fill="#1a1a1a" stroke="none"/>
<g stroke="none"><circle cx="419.9" cy="369.3" r="0.69" fill="#666"/><circle cx="380.1" cy="364.4" r="0.76" fill="#8a8a8a"/><circle cx="410.8" cy="368.2" r="0.75" fill="#666"/><circle cx="371.7" cy="364.9" r="0.52" fill="#999"/><circle cx="447.8" cy="371.6" r="0.55" fill="#777"/><circle cx="395.5" cy="368.2" r="0.50" fill="#666"/><circle cx="419.7" cy="369.0" r="0.51" fill="#8a8a8a"/><circle cx="367.5" cy="364.7" r="0.80" fill="#999"/><circle cx="403.7" cy="367.9" r="0.45" fill="#666"/><circle cx="448.2" cy="374.1" r="0.51" fill="#999"/><circle cx="373.0" cy="365.6" r="0.44" fill="#777"/><circle cx="433.0" cy="371.4" r="0.53" fill="#8a8a8a"/><circle cx="448.3" cy="374.4" r="0.71" fill="#777"/><circle cx="421.2" cy="371.2" r="0.66" fill="#777"/><circle cx="409.4" cy="366.3" r="0.63" fill="#777"/><circle cx="432.9" cy="371.5" r="0.57" fill="#8a8a8a"/><circle cx="401.5" cy="367.4" r="0.72" fill="#999"/><circle cx="359.7" cy="364.0" r="0.50" fill="#777"/><circle cx="392.9" cy="367.3" r="0.71" fill="#666"/><circle cx="422.2" cy="370.8" r="0.78" fill="#666"/><circle cx="382.0" cy="363.9" r="0.43" fill="#777"/><circle cx="363.4" cy="362.1" r="0.63" fill="#999"/><circle cx="387.4" cy="364.6" r="0.65" fill="#666"/><circle cx="372.3" cy="365.2" r="0.44" fill="#8a8a8a"/><circle cx="358.3" cy="361.4" r="0.61" fill="#8a8a8a"/><circle cx="407.6" cy="368.9" r="0.76" fill="#999"/><circle cx="371.0" cy="363.0" r="0.43" fill="#666"/><circle cx="434.3" cy="369.4" r="0.42" fill="#8a8a8a"/><circle cx="367.5" cy="362.2" r="0.74" fill="#777"/><circle cx="403.1" cy="366.1" r="0.76" fill="#8a8a8a"/><circle cx="406.5" cy="367.1" r="0.47" fill="#999"/><circle cx="370.9" cy="363.1" r="0.45" fill="#999"/><circle cx="368.2" cy="362.4" r="0.50" fill="#666"/><circle cx="430.8" cy="369.2" r="0.53" fill="#999"/><circle cx="436.9" cy="373.3" r="0.71" fill="#777"/><circle cx="408.9" cy="368.6" r="0.46" fill="#666"/><circle cx="385.7" cy="364.9" r="0.62" fill="#777"/><circle cx="372.4" cy="365.4" r="0.57" fill="#666"/><circle cx="385.3" cy="363.8" r="0.70" fill="#777"/><circle cx="390.4" cy="365.3" r="0.46" fill="#999"/><circle cx="398.8" cy="368.2" r="0.54" fill="#666"/><circle cx="422.2" cy="368.2" r="0.53" fill="#777"/><circle cx="388.7" cy="366.5" r="0.56" fill="#666"/><circle cx="427.0" cy="370.6" r="0.55" fill="#666"/><circle cx="368.4" cy="361.5" r="0.75" fill="#777"/><circle cx="420.8" cy="370.3" r="0.57" fill="#777"/><circle cx="431.7" cy="371.1" r="0.62" fill="#8a8a8a"/><circle cx="394.1" cy="366.6" r="0.44" fill="#8a8a8a"/><circle cx="365.1" cy="361.3" r="0.67" fill="#777"/><circle cx="443.1" cy="370.6" r="0.40" fill="#8a8a8a"/><circle cx="426.5" cy="372.1" r="0.55" fill="#8a8a8a"/><circle cx="370.1" cy="363.5" r="0.76" fill="#999"/><circle cx="446.7" cy="374.1" r="0.40" fill="#8a8a8a"/><circle cx="419.5" cy="368.7" r="0.69" fill="#999"/><circle cx="442.5" cy="370.5" r="0.57" fill="#8a8a8a"/><circle cx="419.9" cy="369.3" r="0.63" fill="#666"/><circle cx="445.9" cy="370.8" r="0.76" fill="#999"/><circle cx="407.4" cy="368.2" r="0.40" fill="#999"/><circle cx="422.7" cy="371.2" r="0.55" fill="#777"/><circle cx="416.5" cy="367.3" r="0.45" fill="#777"/><circle cx="363.7" cy="362.2" r="0.49" fill="#999"/><circle cx="416.4" cy="368.9" r="0.62" fill="#999"/><circle cx="410.1" cy="368.4" r="0.62" fill="#999"/><circle cx="447.3" cy="374.8" r="0.69" fill="#999"/><circle cx="362.5" cy="360.9" r="0.54" fill="#8a8a8a"/><circle cx="406.5" cy="369.6" r="0.67" fill="#8a8a8a"/><circle cx="445.8" cy="371.6" r="0.49" fill="#777"/><circle cx="393.2" cy="365.4" r="0.41" fill="#999"/><circle cx="383.7" cy="365.8" r="0.62" fill="#666"/><circle cx="427.1" cy="370.7" r="0.65" fill="#8a8a8a"/><circle cx="399.8" cy="366.9" r="0.51" fill="#777"/><circle cx="364.6" cy="364.5" r="0.53" fill="#777"/><circle cx="435.9" cy="372.8" r="0.60" fill="#8a8a8a"/><circle cx="377.2" cy="363.7" r="0.64" fill="#777"/><circle cx="386.4" cy="365.7" r="0.77" fill="#999"/><circle cx="411.7" cy="367.0" r="0.74" fill="#666"/><circle cx="386.5" cy="366.3" r="0.73" fill="#8a8a8a"/><circle cx="372.0" cy="365.5" r="0.64" fill="#777"/><circle cx="398.9" cy="368.9" r="0.53" fill="#8a8a8a"/><circle cx="443.7" cy="370.9" r="0.55" fill="#999"/><circle cx="405.8" cy="369.6" r="0.50" fill="#777"/><circle cx="362.5" cy="362.6" r="0.68" fill="#666"/><circle cx="362.2" cy="362.6" r="0.68" fill="#999"/><circle cx="438.1" cy="370.8" r="0.73" fill="#777"/><circle cx="388.0" cy="363.7" r="0.52" fill="#777"/><circle cx="390.0" cy="366.2" r="0.49" fill="#999"/><circle cx="364.3" cy="364.4" r="0.43" fill="#666"/><circle cx="388.2" cy="364.2" r="0.43" fill="#999"/><circle cx="397.7" cy="365.7" r="0.47" fill="#666"/><circle cx="443.6" cy="371.8" r="0.73" fill="#999"/><circle cx="418.5" cy="370.7" r="0.56" fill="#8a8a8a"/><circle cx="363.4" cy="364.5" r="0.62" fill="#777"/><circle cx="369.2" cy="365.0" r="0.58" fill="#8a8a8a"/><circle cx="393.9" cy="367.7" r="0.52" fill="#8a8a8a"/><circle cx="355.7" cy="360.0" r="0.69" fill="#8a8a8a"/><circle cx="367.4" cy="362.8" r="0.64" fill="#8a8a8a"/><circle cx="422.7" cy="371.8" r="0.41" fill="#666"/><circle cx="385.5" cy="363.5" r="0.51" fill="#8a8a8a"/><circle cx="410.8" cy="370.3" r="0.48" fill="#777"/><circle cx="415.7" cy="367.9" r="0.49" fill="#777"/><circle cx="396.8" cy="368.6" r="0.53" fill="#666"/><circle cx="449.2" cy="374.9" r="0.72" fill="#999"/><circle cx="421.4" cy="369.0" r="0.72" fill="#8a8a8a"/><circle cx="405.8" cy="368.5" r="0.44" fill="#999"/><circle cx="365.3" cy="363.8" r="0.67" fill="#666"/><circle cx="435.8" cy="369.8" r="0.67" fill="#999"/><circle cx="399.9" cy="367.0" r="0.67" fill="#999"/><circle cx="402.2" cy="369.1" r="0.52" fill="#777"/><circle cx="439.9" cy="374.0" r="0.62" fill="#666"/><circle cx="390.5" cy="366.3" r="0.73" fill="#8a8a8a"/><circle cx="378.7" cy="365.2" r="0.80" fill="#999"/><circle cx="402.9" cy="367.4" r="0.62" fill="#8a8a8a"/><circle cx="374.6" cy="363.3" r="0.79" fill="#777"/><circle cx="362.1" cy="360.9" r="0.47" fill="#999"/><circle cx="414.8" cy="370.6" r="0.67" fill="#777"/><circle cx="393.4" cy="366.6" r="0.61" fill="#8a8a8a"/><circle cx="357.9" cy="362.0" r="0.65" fill="#8a8a8a"/><circle cx="426.6" cy="369.7" r="0.53" fill="#8a8a8a"/><circle cx="389.1" cy="366.2" r="0.62" fill="#666"/><circle cx="374.4" cy="365.5" r="0.78" fill="#666"/><circle cx="425.5" cy="371.6" r="0.42" fill="#666"/><circle cx="356.7" cy="362.6" r="0.78" fill="#777"/><circle cx="428.9" cy="370.2" r="0.61" fill="#999"/><circle cx="425.7" cy="369.7" r="0.74" fill="#777"/><circle cx="441.9" cy="373.2" r="0.68" fill="#8a8a8a"/><circle cx="410.8" cy="367.0" r="0.73" fill="#999"/><circle cx="384.9" cy="364.3" r="0.77" fill="#999"/><circle cx="357.2" cy="361.2" r="0.54" fill="#777"/><circle cx="428.1" cy="368.8" r="0.58" fill="#777"/><circle cx="404.8" cy="369.1" r="0.72" fill="#999"/><circle cx="431.7" cy="372.2" r="0.72" fill="#777"/><circle cx="380.7" cy="364.3" r="0.75" fill="#8a8a8a"/><circle cx="392.7" cy="365.1" r="0.67" fill="#777"/><circle cx="420.3" cy="369.7" r="0.68" fill="#8a8a8a"/><circle cx="448.4" cy="374.2" r="0.77" fill="#777"/><circle cx="363.1" cy="363.5" r="0.49" fill="#666"/><circle cx="449.5" cy="372.8" r="0.74" fill="#666"/><circle cx="396.4" cy="365.1" r="0.80" fill="#999"/><circle cx="374.2" cy="363.1" r="0.40" fill="#8a8a8a"/><circle cx="387.1" cy="365.1" r="0.70" fill="#8a8a8a"/><circle cx="384.5" cy="366.6" r="0.69" fill="#8a8a8a"/><circle cx="393.9" cy="366.6" r="0.43" fill="#777"/><circle cx="365.3" cy="363.0" r="0.59" fill="#777"/><circle cx="424.3" cy="370.6" r="0.48" fill="#8a8a8a"/><circle cx="433.2" cy="371.7" r="0.49" fill="#999"/><circle cx="392.6" cy="365.2" r="0.46" fill="#666"/><circle cx="415.0" cy="370.7" r="0.47" fill="#666"/><circle cx="446.1" cy="372.6" r="0.74" fill="#8a8a8a"/><circle cx="406.3" cy="367.8" r="0.76" fill="#666"/><circle cx="416.6" cy="370.1" r="0.62" fill="#8a8a8a"/></g></g>
<g id="screws"><path d="M313.9 365.4 L306.9 359.4 L312.4 357.6 L314.9 359.6 Z" fill="#c0c0c0" stroke-width="1.49"/><ellipse cx="310.0" cy="362.9" rx="4.6" ry="2.2" transform="rotate(40.6 310.0 362.9)" fill="#c0c0c0" stroke-width="1.49"/><path d="M314.9 359.6 L327.0 345.1 L326.8 343.3 L325.0 343.3 L312.4 357.6 Z" fill="#1a1a1a" stroke-width="1.15"/><path d="M316.3 356.9L315.5 355.1M318.0 354.9L317.3 353.0M319.8 352.8L319.0 351.0M321.6 350.8L320.8 348.9M323.3 348.7L322.5 346.9M325.1 346.7L324.3 344.8" stroke="#b5b5b5" stroke-width="1.03"/><path d="M520.9 396.2 L513.5 390.6 L518.9 388.4 L521.5 390.4 Z" fill="#c0c0c0" stroke-width="1.49"/><ellipse cx="516.8" cy="393.9" rx="4.6" ry="2.2" transform="rotate(37.2 516.8 393.9)" fill="#c0c0c0" stroke-width="1.49"/><path d="M521.5 390.4 L531.5 376.8 L531.1 375.0 L529.3 375.2 L518.9 388.4 Z" fill="#1a1a1a" stroke-width="1.15"/><path d="M522.8 387.6L521.9 385.8M524.4 385.4L523.5 383.6M526.0 383.3L525.1 381.5M527.6 381.1L526.8 379.3M529.3 379.0L528.4 377.2" stroke="#b5b5b5" stroke-width="1.03"/></g>
<g id="lampL"><ellipse cx="188.3" cy="333.4" rx="5.5" ry="4.7" fill="#1a1a1a" stroke-width="1.38"/><ellipse cx="188.6" cy="334.6" rx="1.9" ry="1.4" fill="#b0b0b0" stroke="none"/><ellipse cx="187.7" cy="343" rx="4.2" ry="2.3" fill="#1a1a1a" stroke-width="1.38"/><path d="M185.4 343 H190" stroke="#8a8a8a" stroke-width="0.92"/><rect x="186.5" y="350.6" width="4.6" height="16" rx="1.4" fill="#1a1a1a" stroke-width="1.15"/><path d="M188 354.2 H189.8 M188 357.2 H189.8 M188 360.2 H189.8" stroke="#b0b0b0" stroke-width="1.15"/><path d="M176 376 C176.4 371 178.4 367.6 181.6 365.8 C184.6 364.4 192 364.4 195.6 366.4 C199 368.4 200.8 372 200.8 376 L200.4 381 C200 384.6 194.6 385 194 381.4 L193.4 376 C193 373.4 191 372.2 188.8 372.2 C186.6 372.2 185 373.4 184.6 376 L183.6 380.6 C183 384 177 383.8 176.6 380.6 Z" fill="#c0c0c0" stroke-width="2.07"/><path d="M181.6 367.6 C184.6 369.6 192.6 369.8 195.6 368.2" stroke-width="1.38"/><path d="M196 376 L196.6 381.6 M198.6 374.6 L198.4 380" stroke-width="1.49"/><circle cx="180" cy="376.6" r="1.3" fill="#1a1a1a" stroke="none"/><rect x="187" y="363.6" width="3.6" height="4.4" fill="#c0c0c0" stroke-width="1.38"/><ellipse cx="216.6" cy="382.7" rx="2.5" ry="3.8" fill="#1a1a1a" stroke-width="1.15"/><ellipse cx="235.7" cy="384.7" rx="5" ry="4.9" fill="#1a1a1a" stroke-width="1.38"/><path d="M233.4 383.6 L235.6 382.4 L238 383.6 M235.6 385.6 V387.6" stroke="#8a8a8a" stroke-width="1.03"/><path d="M141.1 373.7 L160.3 376.9 L160.9 373.5 L141.7 370.3Z" fill="#1a1a1a" stroke-width="1.15"/><path d="M147.4 373.8L147.6 372.2M149.9 374.2L150.2 372.7M152.5 374.7L152.8 373.1M155.1 375.1L155.3 373.5M157.6 375.5L157.9 373.9" stroke="#9a9a9a" stroke-width="1.03"/><ellipse cx="141.4" cy="372.0" rx="3.1" ry="3.6" transform="rotate(9.5 141.4 372.0)" fill="#b4b4b4" stroke-width="2.30"/><path d="M148 409 C150 405 152 403 154 401.6 C157 398.6 159.6 396.2 162.6 395 L199 398.4 C202.6 399.4 204.6 402.4 205 406 C205.2 409 204.6 411.6 204 413.6 C203 418 200.6 421.6 198.6 424.6 L192 431.6" fill="#c0c0c0" stroke-width="2.18"/><path d="M170.2 399.4 L170.4 389.4 C170.6 385.4 175.8 385.4 176 389.4 L176 399.6" fill="#c0c0c0" stroke-width="2.07"/><path d="M192 401.8 L192.2 392.6 C192.4 388.6 197.6 388.6 197.8 392.6 L197.8 402.4" fill="#c0c0c0" stroke-width="2.07"/><path d="M172.6 388.6 V397 M194.6 392 V400" stroke-width="1.84"/><path d="M176 395.2 L192 396.8 M173 399.8 L192 401.6 M176 395.2 L172 400" stroke-width="1.61"/><path d="M144 418 C145 413 147.6 408.6 151 406.8 L188.6 412.2 C194 413.2 198 416 198.8 420.6 L198.6 424.6" stroke-width="2.99"/><path d="M153.6 403.6 L189.6 408.6 C195.6 409.6 200 412.4 201.4 416" stroke-width="1.49"/><path d="M158 401.2 L190 405.4" stroke-width="2.07"/><path d="M144 420 C144.2 414.6 147 411 151 411 L186 416 C190.6 416.8 193.6 419 194 423 C194.2 428 192 432 188 432.4 L162 429 L151 427 C146.6 426 143.8 424 144 420 Z" fill="#c0c0c0" stroke-width="2.30"/><path d="M147.6 419 V425 M150 421 V426 M152.4 422 V426.4 M154.6 423.6 V425.6 M186 426.6 V428.6 M187.6 425.6 V428.4" stroke-width="1.15"/><path d="M146 419 L148 423.6 L146.6 424 Z" fill="#1a1a1a" stroke-width="0.92"/><circle cx="156.6" cy="424" r="0.7" fill="#1a1a1a" stroke="none"/><circle cx="162" cy="423.6" r="0.7" fill="#1a1a1a" stroke="none"/><path d="M199 419 L203 413 M200.6 421.6 L203.6 416.6" stroke-width="1.15"/></g>
<g id="lampR"><ellipse cx="676" cy="378.9" rx="6" ry="4.2" fill="#1a1a1a" stroke-width="1.38"/><ellipse cx="676" cy="379.6" rx="2.4" ry="1.4" fill="#a8a8a8" stroke="none"/><path d="M676 375.6 V378" stroke="#8a8a8a" stroke-width="0.92"/><path d="M671.8 389.4 C673 387.4 678 387.4 679 389.4 M672 390.8 C673.6 392.2 677.6 392 678.8 390.6" stroke-width="1.95"/><rect x="673.4" y="395.2" width="4" height="14" rx="1.2" fill="#1a1a1a" stroke-width="1.15"/><path d="M674.6 398.4 H676.4 M674.6 401.4 H676.4 M674.6 404.4 H676.4" stroke="#b0b0b0" stroke-width="1.15"/><path d="M664 418 C664.4 414 666.4 411.4 669.4 409.8 C672.4 408.4 680 408.4 683.4 410.2 C687 412.2 689.2 415 689.4 418.6 L688.8 424.4 C688.4 428 682.8 428 682.6 424.6 L682 419.6 C681.6 416.8 679 415.6 676.4 415.6 C673.8 415.6 671.6 416.8 671.2 419.6 L670.8 423 C670.4 426.4 664.6 426.2 664.4 423 Z" fill="#c0c0c0" stroke-width="2.07"/><path d="M669.6 411.8 C672.6 413.6 680.6 413.8 683.4 412.2" stroke-width="1.38"/><path d="M666.4 418.6 L666.6 423 M668.6 418 L668.6 423.4 M684.6 420 L685 425 M686.8 419 L686.8 424.6" stroke-width="1.38"/><rect x="674.2" y="406.6" width="3.2" height="4.6" fill="#c0c0c0" stroke-width="1.38"/><path d="M630.6 416.4 L649.8 419.1 L650.2 415.7 L631.0 413.0Z" fill="#1a1a1a" stroke-width="1.15"/><path d="M636.8 416.4L637.1 414.8M639.4 416.7L639.6 415.1M642.0 417.1L642.2 415.5M644.6 417.4L644.8 415.9M647.1 417.8L647.3 416.2" stroke="#9a9a9a" stroke-width="1.03"/><ellipse cx="630.8" cy="414.7" rx="3.1" ry="3.6" transform="rotate(8.0 630.8 414.7)" fill="#b4b4b4" stroke-width="2.30"/><ellipse cx="706.3" cy="424" rx="2.3" ry="3.6" fill="#1a1a1a" stroke-width="1.15"/><path d="M707 422 V425.6" stroke="#aaa" stroke-width="0.92"/><ellipse cx="724.7" cy="425.5" rx="5.2" ry="5" fill="#1a1a1a" stroke-width="1.38"/><path d="M722.4 424.4 L724.6 423.2 L727 424.4 M724.6 426.4 V428.4" stroke="#8a8a8a" stroke-width="1.03"/><path d="M641 455.6 C643 451.6 645 449.6 647 448 L660 439.6 C661.6 438.6 663 438 664.6 438 L697 440.6 C701.6 441.2 704.6 444 705 448 C705.2 451 704 455 702 458 C700 462 697.6 465.6 695 469 L689.6 475" fill="#c0c0c0" stroke-width="2.18"/><path d="M663.6 443.6 L663.8 436.6 C664 432.4 671 432.4 671.2 436.6 L671.2 444.2" fill="#c0c0c0" stroke-width="2.07"/><path d="M685.4 444.4 L685.6 436.6 C685.8 432.4 692.4 432.4 692.6 436.6 L692.6 445" fill="#c0c0c0" stroke-width="2.07"/><path d="M666.6 436 V443 M688 436 V444" stroke-width="1.72"/><path d="M671.2 439.4 L685.4 439.8 M667 446.2 L685.4 446.4 L686 440 M671.2 443.6 L674 439.4" stroke-width="1.61"/><path d="M636 464 C637 459 640 454.6 644.4 452.4 L681 454.6 C688 455 693.6 457 694.6 461.6 L695 468" stroke-width="3.22"/><path d="M648.6 449 L683 450.6 C690 451 695.6 453.6 697.6 458" stroke-width="1.49"/><path d="M654.6 449.4 L681.6 451.2" stroke-width="2.30"/><path d="M636 465 C636.6 459.6 640 456.6 645 455.6 L681 457.2 C686 457.6 690.6 460 691 465 C691.4 470.6 689 475.4 684 475.8 L655 474 L644 472.4 C639 471.4 635.8 469 636 465 Z" fill="#c0c0c0" stroke-width="2.30"/><path d="M660.6 462.6 L663 463.6 M665 463.8 L668.4 463 M664.2 464 V468.4" stroke-width="1.15"/><path d="M638.6 464 L641.6 465 L640.6 469.6 L638 468.6 Z" fill="#1a1a1a" stroke-width="0.92"/><path d="M645.6 470 V472.4 M647.4 470.6 V472.6 M679 472 V475 M681 471.6 V475 M683.2 471 V474.6 M685 470.6 V474" stroke-width="1.15"/><path d="M697 450 L701.6 447.6 M697.6 452.6 L702 450" stroke-width="1.38"/></g>
<g id="lamp3"><ellipse cx="551.2" cy="469.6" rx="17.4" ry="20" transform="rotate(-30 551.2 469.6)" stroke-width="2.07"/><ellipse cx="549.8" cy="470.4" rx="10.4" ry="13.6" transform="rotate(-30 549.8 470.4)" stroke-width="1.84"/><path d="M537.4 461 C535.6 470 539.6 480.6 547 485.6" stroke-width="2.99"/><path d="M565.6 461 C568.4 467 568 475 564.4 481.4" stroke-width="1.49"/><path d="M552.6 486 L559.6 483.4 M552 489 L556 487.6" stroke-width="1.38"/><path d="M507.2 494 C509 491 511 489.2 513 488.2 C516 487.2 519 487.2 521.2 487.6 C525 488.4 528 489.8 530.6 491.7 C533.4 494 535.2 496.8 536.4 499.9 C537.8 503 538.8 505.4 538.8 508 C538.6 511 537 514 535.3 516.2 C534 519 533.4 521.6 532.9 524.4" fill="#c0c0c0" stroke-width="1.95"/><path d="M522.4 489.3 C528 491.6 533.6 497 536.2 503.4" stroke-width="3.22"/><ellipse cx="509" cy="518.8" rx="26" ry="20.6" transform="rotate(45 509 518.8)" fill="#c0c0c0" stroke-width="2.18"/><ellipse cx="507.6" cy="521" rx="22.6" ry="17.6" transform="rotate(46 507.6 521)" stroke-width="1.38"/><ellipse cx="506" cy="522.8" rx="20" ry="15" transform="rotate(48 506 522.8)" fill="#c0c0c0" stroke-width="1.72"/><path d="M485.4 515 C484.6 508 487.4 500 492.6 496 C496 493.6 500 492.8 503 493.2 L503.6 496 C498 497.6 493 501 490 506 C488.4 509 487.6 513 488 517 Z" fill="#161616" stroke-width="1.15"/><path d="M490.6 503 L492 499.4 M493 501.4 L494.4 497.8 M495.6 500 L496.8 496.8 M498.2 499 L499.2 496" stroke="#c4c4c4" stroke-width="1.03"/><path d="M524.4 536.6 C521 540 517 542.6 512.6 543.4 C516 543.2 522 541.6 526 538 Z" fill="#161616" stroke-width="1.84"/><path d="M491.2 524 C493 530 497.6 535 503.6 537.6 M493.6 524.6 C495.6 529.4 499 533.2 503.6 535.4 M496.4 525.6 C498 529 500.4 531.4 503.6 533" stroke-width="1.26"/><path d="M527.6 527.4 H531.4 M527 530.2 H530.8 M525.6 533.2 H529.4" stroke-width="1.03"/><path d="M537.4 511.6 C542 510 545 507.6 546.4 503 C548.4 496 548 488 550.4 480 C552 474.4 555.4 470.6 560 468 C566 464.6 572 461.6 577.6 456.6 C585 450 590 442 596 436.6 C599.6 433.4 603 431 607 429.2" stroke-width="3.22"/><path d="M606 429.4 L615.6 424.6 M606.4 430.4 L616.4 427.2 M605 428.6 L613.6 423" stroke-width="1.26"/><path d="M616.4 427.4 L616 424.2" stroke-width="2.07"/><ellipse cx="487.4" cy="543.6" rx="2.6" ry="1.8" transform="rotate(30 487.4 543.6)" fill="#1a1a1a" stroke-width="1.38"/><ellipse cx="487.2" cy="543.4" rx="1" ry="0.7" fill="#b0b0b0" stroke="none"/></g>
<g id="screw1"><path d="M470.8 565.3 L476.6 559.8 L474.1 557.2 L468.4 562.7Z" fill="#c0c0c0" stroke-width="1.61"/><path d="M476.6 559.8 L482.8 553.9 L480.4 551.3 L474.1 557.2Z" fill="#141414" stroke-width="1.38"/><ellipse cx="469.0" cy="564.6" rx="4.0" ry="2.4" transform="rotate(46.5 469.0 564.6)" fill="#b8b8b8" stroke-width="2.18"/></g>
<g id="lampLround"><ellipse cx="112" cy="384.6" rx="20.6" ry="14.4" transform="rotate(36 112 384.6)" stroke-width="2.30"/><ellipse cx="110.4" cy="384" rx="15.2" ry="8.8" transform="rotate(38 110.4 384)" stroke-width="2.07"/><path d="M104.6 393.6 C109 398.6 117 401.6 124.4 399.6" stroke-width="2.53"/><path d="M117.6 378 C122 382 125.6 388 126.6 394" stroke-width="2.76"/><path d="M95.4 378 C96.6 374 99.6 371 103.6 369.6" stroke-width="2.76"/><path d="M112 396.6 L117 394.4 M119.6 398.4 L122.6 394.4" stroke-width="1.15"/><path d="M55.1 423.7 C57 421.6 58.6 420.4 60.4 419.6 C63 418.4 66 417.8 68.6 417.9 C72.6 418.2 76 419.4 79.1 421.4 C82.6 423.6 85.2 426.4 87.3 429.5 C89.2 432.6 90.4 435.8 90.8 438.9 C91.2 442.6 90.6 446 89.6 449.4 C89 452 88.4 454.4 87.8 456.4" fill="#c0c0c0" stroke-width="1.95"/><path d="M75 420.6 C81 423 86.6 428.6 88.8 435.6" stroke-width="2.76"/><ellipse cx="63.9" cy="445.6" rx="26.2" ry="19" transform="rotate(33 63.9 445.6)" fill="#c0c0c0" stroke-width="2.18"/><ellipse cx="61.6" cy="447.4" rx="22.8" ry="16" transform="rotate(35 61.6 447.4)" stroke-width="1.38"/><ellipse cx="59.8" cy="448.8" rx="20.4" ry="13.8" transform="rotate(37 59.8 448.8)" fill="#c0c0c0" stroke-width="1.72"/><path d="M40.2 441 C40.2 435 43.6 430 48.4 427.2 L50 429.6 C46 432.6 43.6 437 43.2 442 Z" fill="#161616" stroke-width="1.61"/><path d="M82.6 456 C84 459 83.6 462 81 464 C78 465.8 73 466.6 69 466.4 C74 466 78.6 463.6 80.6 459.4 Z" fill="#161616" stroke-width="1.84"/><path d="M81.6 452 L85.4 455.4 M80.6 455 L84.6 458.6" stroke-width="1.03"/><path d="M55 461.4 C59 463.4 63.6 464.2 67.4 463.6" stroke-width="1.03"/><path d="M46.4 451.6 C48.6 456 52.4 459.6 56.6 461.6" stroke-width="1.03"/><path d="M73.4 418 C74.6 412 76.4 407.4 80.4 403 C85 398.4 91 395 97 391.6 C102.6 388.4 107.4 384 109.8 378 C111.4 374 112 371.6 112.5 369.2 L113.6 356.6 L118.8 351.4" stroke-width="3.45"/><path d="M119.2 351.8 L124.8 344.6 M120 352.4 L126.4 348 M118.4 351.4 L122 344.6" stroke-width="1.26"/><path d="M124.6 344.4 L126.6 348.2" stroke-width="2.07"/><ellipse cx="39.9" cy="473.9" rx="4.4" ry="3.4" transform="rotate(25 39.9 473.9)" fill="#1a1a1a" stroke-width="1.38"/><path d="M38.4 474.4 L41.4 475.4" stroke="#8a8a8a" stroke-width="1.03"/></g>
<g id="screwL"><path d="M19.2 499.3 L25.1 492.2 L21.8 489.6 L16.0 496.7Z" fill="#c0c0c0" stroke-width="1.61"/><path d="M25.1 492.2 L31.4 484.5 L28.2 481.9 L21.8 489.6Z" fill="#141414" stroke-width="1.38"/><ellipse cx="17.1" cy="498.6" rx="4.6" ry="2.8" transform="rotate(39.5 17.1 498.6)" fill="#b8b8b8" stroke-width="2.18"/></g>
</svg>
</body></html>
